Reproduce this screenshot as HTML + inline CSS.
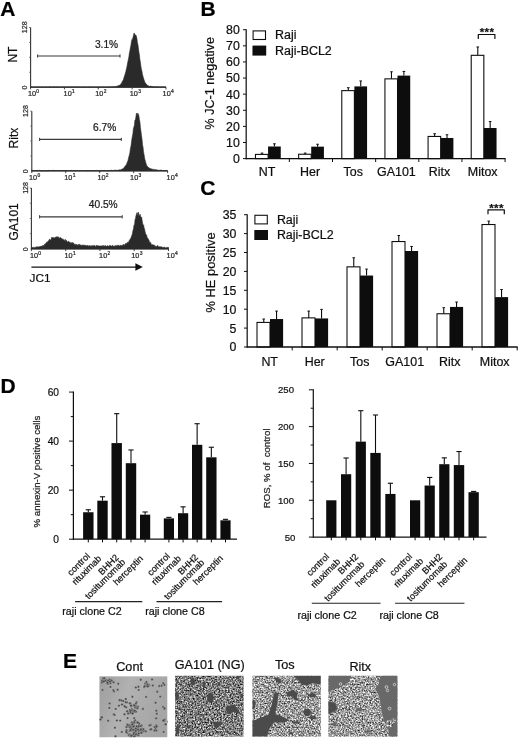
<!DOCTYPE html>
<html lang="en">
<head>
<meta charset="utf-8">
<title>Figure</title>
<style>
html,body{margin:0;padding:0;background:#fff;}
body{width:520px;height:740px;overflow:hidden;}
svg{display:block;font-family:"Liberation Sans", sans-serif;}
svg text{stroke:#111;stroke-width:0.22px;paint-order:stroke fill;}
svg .all{filter:url(#gsoft);}
</style>
</head>
<body>
<svg width="520" height="740" viewBox="0 0 520 740">
<defs>
<linearGradient id="contbg" x1="0" y1="0" x2="1" y2="0.3"><stop offset="0" stop-color="#989898"/><stop offset="0.45" stop-color="#b0b0b0"/><stop offset="1" stop-color="#a2a2a2"/></linearGradient>
<filter id="fineNoise" x="0" y="0" width="100%" height="100%"><feTurbulence type="fractalNoise" baseFrequency="0.9" numOctaves="2" seed="3"/><feColorMatrix type="matrix" values="0 0 0 0 0.5  0 0 0 0 0.5  0 0 0 0 0.5  1.2 0 0 0 -0.1"/></filter>
<filter id="speckle" x="0" y="0" width="100%" height="100%" color-interpolation-filters="sRGB"><feTurbulence type="fractalNoise" baseFrequency="0.63" numOctaves="3" seed="8"/><feColorMatrix type="matrix" values="1.5 0 0 0 -0.255  1.5 0 0 0 -0.255  1.5 0 0 0 -0.255  0 0 0 0 1"/><feGaussianBlur stdDeviation="0.5"/></filter>
<filter id="speckle2" x="0" y="0" width="100%" height="100%" color-interpolation-filters="sRGB"><feTurbulence type="fractalNoise" baseFrequency="0.63" numOctaves="3" seed="21"/><feColorMatrix type="matrix" values="1.5 0 0 0 -0.135  1.5 0 0 0 -0.135  1.5 0 0 0 -0.135  0 0 0 0 1"/><feGaussianBlur stdDeviation="0.5"/></filter>
<filter id="gsoft" x="0" y="0" width="100%" height="100%" filterUnits="userSpaceOnUse"><feGaussianBlur stdDeviation="0.32"/></filter>
<filter id="soft" x="-5%" y="-5%" width="110%" height="110%"><feGaussianBlur stdDeviation="0.35"/></filter>
<filter id="soft2" x="-5%" y="-5%" width="110%" height="110%"><feGaussianBlur stdDeviation="0.7"/></filter>
<clipPath id="c1"><rect x="99.3" y="676.2" width="68.2" height="61.2"/></clipPath>
<clipPath id="c2"><rect x="175.1" y="675.8" width="68.4" height="60.7"/></clipPath>
<clipPath id="c3"><rect x="252.5" y="675.8" width="68.2" height="60.7"/></clipPath>
<clipPath id="blob4"><circle cx="389.6" cy="723.6" r="3.6"/><circle cx="393.6" cy="720.6" r="2.2"/><circle cx="375.6" cy="683.6" r="3.2"/></clipPath>
<clipPath id="c4"><rect x="328.5" y="675.8" width="68.9" height="60.7"/></clipPath>
</defs>
<rect x="0" y="0" width="520" height="740" fill="#ffffff"/>
<g class="all">
<text x="0.3" y="16.4" font-size="21" text-anchor="start" font-weight="bold" fill="#000">A</text>
<path d="M30.6,87.2 L30.6,87.1 L31.1,86.9 L31.6,86.9 L32.1,87.1 L32.6,87.0 L33.1,87.0 L33.6,86.9 L34.1,86.9 L34.6,87.2 L35.1,87.2 L35.6,86.9 L36.1,87.0 L36.6,86.9 L37.1,87.2 L37.6,87.0 L38.1,86.9 L38.6,87.1 L39.1,86.8 L39.6,86.8 L40.1,87.2 L40.6,87.2 L41.1,87.0 L41.6,86.8 L42.1,87.0 L42.6,87.1 L43.1,87.0 L43.6,87.2 L44.1,87.1 L44.6,87.0 L45.1,87.0 L45.6,87.1 L46.1,87.1 L46.6,87.1 L47.1,87.0 L47.7,87.1 L48.2,87.2 L48.7,86.9 L49.2,87.0 L49.7,86.9 L50.2,87.1 L50.7,86.8 L51.2,86.9 L51.7,87.2 L52.2,87.1 L52.7,86.9 L53.2,86.9 L53.7,86.8 L54.2,87.0 L54.7,86.9 L55.2,86.9 L55.7,87.1 L56.2,87.0 L56.7,86.8 L57.2,86.9 L57.7,87.0 L58.2,87.0 L58.7,87.2 L59.2,87.1 L59.7,86.9 L60.2,87.0 L60.7,87.1 L61.2,87.0 L61.7,86.9 L62.2,86.9 L62.7,87.1 L63.2,87.0 L63.7,87.0 L64.2,86.9 L64.7,87.0 L65.2,87.0 L65.7,87.0 L66.2,87.2 L66.7,87.2 L67.2,86.9 L67.7,86.8 L68.2,87.0 L68.7,87.0 L69.2,87.1 L69.7,87.0 L70.2,86.8 L70.7,86.9 L71.2,87.0 L71.7,86.9 L72.2,87.1 L72.7,87.0 L73.2,86.8 L73.7,87.0 L74.2,87.0 L74.7,87.1 L75.2,87.0 L75.7,86.8 L76.2,87.2 L76.7,86.9 L77.2,86.9 L77.7,86.8 L78.2,86.9 L78.7,86.9 L79.2,87.0 L79.7,87.0 L80.2,87.0 L80.7,87.2 L81.2,86.9 L81.8,87.0 L82.3,87.1 L82.8,87.0 L83.3,87.0 L83.8,87.1 L84.3,87.1 L84.8,87.0 L85.3,87.0 L85.8,87.0 L86.3,87.0 L86.8,87.2 L87.3,87.1 L87.8,87.1 L88.3,87.0 L88.8,86.9 L89.3,86.9 L89.8,86.9 L90.3,86.9 L90.8,87.1 L91.3,86.9 L91.8,86.9 L92.3,87.2 L92.8,87.2 L93.3,87.2 L93.8,86.9 L94.3,87.1 L94.8,87.2 L95.3,86.9 L95.8,87.1 L96.3,87.2 L96.8,87.1 L97.3,87.0 L97.8,87.1 L98.3,87.1 L98.8,86.9 L99.3,87.0 L99.8,87.1 L100.3,87.0 L100.8,87.2 L101.3,87.0 L101.8,87.0 L102.3,87.1 L102.8,87.2 L103.3,86.8 L103.8,87.0 L104.3,87.1 L104.8,86.9 L105.3,86.9 L105.8,87.2 L106.3,87.2 L106.8,87.1 L107.3,86.9 L107.8,87.1 L108.3,86.9 L108.8,86.9 L109.3,86.9 L109.8,87.0 L110.3,86.7 L110.8,86.8 L111.3,86.9 L111.8,87.0 L112.3,86.8 L112.8,86.9 L113.3,86.8 L113.8,86.8 L114.3,86.7 L114.8,86.8 L115.4,86.7 L115.9,86.3 L116.4,86.3 L116.9,86.4 L117.4,86.0 L117.9,86.1 L118.4,85.6 L118.9,85.4 L119.4,85.3 L119.9,85.0 L120.4,84.7 L120.9,83.7 L121.4,83.5 L121.9,82.3 L122.4,81.3 L122.9,80.6 L123.4,79.7 L123.9,77.8 L124.4,76.2 L124.9,74.8 L125.4,73.1 L125.9,71.3 L126.4,69.1 L126.9,67.0 L127.4,63.8 L127.9,61.6 L128.4,59.2 L128.9,56.7 L129.4,52.8 L129.9,50.8 L130.4,47.6 L130.9,45.5 L131.4,41.7 L131.9,39.4 L132.4,39.7 L132.9,37.6 L133.4,36.0 L133.9,33.2 L134.4,33.3 L134.9,34.4 L135.4,35.3 L135.9,35.1 L136.4,36.3 L136.9,38.4 L137.4,42.6 L137.9,44.4 L138.4,48.2 L138.9,52.1 L139.4,54.7 L139.9,59.6 L140.4,62.2 L140.9,66.3 L141.4,69.2 L141.9,71.0 L142.4,74.2 L142.9,75.9 L143.4,77.9 L143.9,79.3 L144.4,81.0 L144.9,82.2 L145.4,83.1 L145.9,83.5 L146.4,84.3 L146.9,84.6 L147.4,85.1 L147.9,85.7 L148.4,85.8 L148.9,86.2 L149.5,86.4 L150.0,86.5 L150.5,86.2 L151.0,86.3 L151.5,86.4 L152.0,86.7 L152.5,86.6 L153.0,86.6 L153.5,86.8 L154.0,86.7 L154.5,86.9 L155.0,87.0 L155.5,86.9 L156.0,86.7 L156.5,86.9 L157.0,86.7 L157.5,86.9 L158.0,87.0 L158.5,86.8 L159.0,86.8 L159.5,87.2 L160.0,86.9 L160.5,87.1 L161.0,87.1 L161.5,86.8 L162.0,87.2 L162.5,87.1 L163.0,86.8 L163.5,87.0 L164.0,87.1 L164.5,87.1 L165.0,87.1 L165.5,86.9 L166.0,87.2 L166.0,87.2 Z" fill="#2b2b2b" stroke="#2b2b2b" stroke-width="0.6"/>
<line x1="30.6" y1="27.5" x2="30.6" y2="87.7" stroke="#333" stroke-width="1.1"/>
<line x1="30.1" y1="87.2" x2="166.0" y2="87.2" stroke="#2b2b2b" stroke-width="1.3"/>
<line x1="29.1" y1="27.5" x2="30.6" y2="27.5" stroke="#444" stroke-width="0.8"/>
<line x1="29.0" y1="72.275" x2="30.6" y2="72.275" stroke="#555" stroke-width="0.7"/>
<line x1="29.0" y1="57.35" x2="30.6" y2="57.35" stroke="#555" stroke-width="0.7"/>
<line x1="29.0" y1="42.425" x2="30.6" y2="42.425" stroke="#555" stroke-width="0.7"/>
<line x1="30.6" y1="87.2" x2="30.6" y2="89.4" stroke="#333" stroke-width="0.9"/>
<text x="27.9" y="96.0" font-size="7.3" fill="#2a2a2a" stroke="#2a2a2a" stroke-width="0.15">10<tspan dx="0.3" dy="-2.6" font-size="4.9">0</tspan></text>
<line x1="64.45" y1="87.2" x2="64.45" y2="89.4" stroke="#333" stroke-width="0.9"/>
<text x="63.6" y="96.0" font-size="7.3" fill="#2a2a2a" stroke="#2a2a2a" stroke-width="0.15">10<tspan dx="0.3" dy="-2.6" font-size="4.9">1</tspan></text>
<line x1="98.30000000000001" y1="87.2" x2="98.30000000000001" y2="89.4" stroke="#333" stroke-width="0.9"/>
<text x="95.2" y="96.0" font-size="7.3" fill="#2a2a2a" stroke="#2a2a2a" stroke-width="0.15">10<tspan dx="0.3" dy="-2.6" font-size="4.9">2</tspan></text>
<line x1="132.15" y1="87.2" x2="132.15" y2="89.4" stroke="#333" stroke-width="0.9"/>
<text x="129.8" y="96.0" font-size="7.3" fill="#2a2a2a" stroke="#2a2a2a" stroke-width="0.15">10<tspan dx="0.3" dy="-2.6" font-size="4.9">3</tspan></text>
<line x1="166.0" y1="87.2" x2="166.0" y2="89.4" stroke="#333" stroke-width="0.9"/>
<text x="162.6" y="96.0" font-size="7.3" fill="#2a2a2a" stroke="#2a2a2a" stroke-width="0.15">10<tspan dx="0.3" dy="-2.6" font-size="4.9">4</tspan></text>
<text x="27.0" y="27.3" font-size="7.1" text-anchor="middle" font-weight="normal" fill="#333" transform="rotate(-90 27.0 27.3)" stroke="#333" stroke-width="0.15">128</text>
<text x="27.0" y="87.5" font-size="7.1" text-anchor="middle" font-weight="normal" fill="#333" transform="rotate(-90 27.0 87.5)" stroke="#333" stroke-width="0.15">0</text>
<line x1="37.6" y1="56" x2="120" y2="56" stroke="#3a3a3a" stroke-width="1.2"/>
<line x1="37.6" y1="54.4" x2="37.6" y2="57.6" stroke="#3a3a3a" stroke-width="1.0"/>
<line x1="120" y1="54.4" x2="120" y2="57.6" stroke="#3a3a3a" stroke-width="1.0"/>
<text x="118.2" y="48.3" font-size="10.2" text-anchor="end" font-weight="normal" fill="#1c1c1c">3.1%</text>
<text x="16.7" y="54.6" font-size="12" text-anchor="middle" font-weight="normal" fill="#111" transform="rotate(-90 16.7 54.6)">NT</text>
<path d="M31.8,170.9 L31.8,170.4 L32.3,170.4 L32.8,170.9 L33.3,170.9 L33.8,170.5 L34.3,170.5 L34.8,170.6 L35.3,170.7 L35.8,170.6 L36.3,170.6 L36.8,170.6 L37.3,170.8 L37.8,170.7 L38.3,170.7 L38.8,170.5 L39.3,170.4 L39.8,170.4 L40.4,170.6 L40.9,170.7 L41.4,170.8 L41.9,170.9 L42.4,170.9 L42.9,170.7 L43.4,170.7 L43.9,170.7 L44.4,170.5 L44.9,170.6 L45.4,170.6 L45.9,170.8 L46.4,170.9 L46.9,170.7 L47.4,170.8 L47.9,170.6 L48.4,170.4 L48.9,170.6 L49.4,170.8 L49.9,170.5 L50.4,170.5 L50.9,170.5 L51.4,170.4 L51.9,170.5 L52.4,170.5 L52.9,170.7 L53.4,170.4 L53.9,170.4 L54.4,170.8 L54.9,170.5 L55.4,170.5 L55.9,170.7 L56.4,170.6 L56.9,170.7 L57.5,170.4 L58.0,170.6 L58.5,170.5 L59.0,170.7 L59.5,170.5 L60.0,170.5 L60.5,170.7 L61.0,170.6 L61.5,170.4 L62.0,170.5 L62.5,170.7 L63.0,170.8 L63.5,170.7 L64.0,170.6 L64.5,170.8 L65.0,170.4 L65.5,170.8 L66.0,170.4 L66.5,170.7 L67.0,170.4 L67.5,170.5 L68.0,170.6 L68.5,170.6 L69.0,170.6 L69.5,170.6 L70.0,170.7 L70.5,170.8 L71.0,170.6 L71.5,170.4 L72.0,170.6 L72.5,170.9 L73.0,170.5 L73.5,170.5 L74.0,170.4 L74.6,170.8 L75.1,170.5 L75.6,170.9 L76.1,170.6 L76.6,170.8 L77.1,170.8 L77.6,170.5 L78.1,170.8 L78.6,170.6 L79.1,170.5 L79.6,170.8 L80.1,170.8 L80.6,170.5 L81.1,170.7 L81.6,170.5 L82.1,170.9 L82.6,170.7 L83.1,170.8 L83.6,170.6 L84.1,170.9 L84.6,170.4 L85.1,170.9 L85.6,170.5 L86.1,170.9 L86.6,170.8 L87.1,170.5 L87.6,170.8 L88.1,170.8 L88.6,170.6 L89.1,170.7 L89.6,170.9 L90.1,170.4 L90.6,170.8 L91.1,170.9 L91.7,170.7 L92.2,170.6 L92.7,170.5 L93.2,170.8 L93.7,170.7 L94.2,170.9 L94.7,170.7 L95.2,170.5 L95.7,170.5 L96.2,170.4 L96.7,170.5 L97.2,170.5 L97.7,170.5 L98.2,170.7 L98.7,170.8 L99.2,170.6 L99.7,170.7 L100.2,170.8 L100.7,170.7 L101.2,170.5 L101.7,170.8 L102.2,170.6 L102.7,170.7 L103.2,170.6 L103.7,170.8 L104.2,170.4 L104.7,170.8 L105.2,170.6 L105.7,170.7 L106.2,170.9 L106.7,170.6 L107.2,170.8 L107.7,170.8 L108.3,170.8 L108.8,170.8 L109.3,170.8 L109.8,170.5 L110.3,170.6 L110.8,170.3 L111.3,170.3 L111.8,170.3 L112.3,170.6 L112.8,170.5 L113.3,170.6 L113.8,170.4 L114.3,170.3 L114.8,170.2 L115.3,170.2 L115.8,170.4 L116.3,170.3 L116.8,170.2 L117.3,170.4 L117.8,170.3 L118.3,170.0 L118.8,170.1 L119.3,169.7 L119.8,169.9 L120.3,169.8 L120.8,169.7 L121.3,169.5 L121.8,169.3 L122.3,168.9 L122.8,168.7 L123.3,168.4 L123.8,167.8 L124.3,167.6 L124.8,166.6 L125.4,165.8 L125.9,165.2 L126.4,164.5 L126.9,163.2 L127.4,161.8 L127.9,160.9 L128.4,158.7 L128.9,156.6 L129.4,154.8 L129.9,152.5 L130.4,148.6 L130.9,146.5 L131.4,143.1 L131.9,138.9 L132.4,136.3 L132.9,133.8 L133.4,128.5 L133.9,127.1 L134.4,125.2 L134.9,120.2 L135.4,119.8 L135.9,117.1 L136.4,113.5 L136.9,113.0 L137.4,114.9 L137.9,113.3 L138.4,114.3 L138.9,115.9 L139.4,119.6 L139.9,121.7 L140.4,127.3 L140.9,130.9 L141.4,135.1 L141.9,138.2 L142.5,144.4 L143.0,147.1 L143.5,151.7 L144.0,154.4 L144.5,157.4 L145.0,159.7 L145.5,161.4 L146.0,163.4 L146.5,165.0 L147.0,166.0 L147.5,166.8 L148.0,166.8 L148.5,167.5 L149.0,167.7 L149.5,168.1 L150.0,168.8 L150.5,168.6 L151.0,168.7 L151.5,168.9 L152.0,169.1 L152.5,169.3 L153.0,169.4 L153.5,169.3 L154.0,169.7 L154.5,169.6 L155.0,169.7 L155.5,169.6 L156.0,169.7 L156.5,169.7 L157.0,169.8 L157.5,170.2 L158.0,170.3 L158.5,170.2 L159.0,170.4 L159.6,170.3 L160.1,170.2 L160.6,170.1 L161.1,170.3 L161.6,170.2 L162.1,170.6 L162.6,170.5 L163.1,170.2 L163.6,170.7 L164.1,170.6 L164.6,170.8 L165.1,170.8 L165.6,170.4 L166.1,170.3 L166.6,170.5 L167.1,170.8 L167.6,170.7 L167.6,170.9 Z" fill="#2b2b2b" stroke="#2b2b2b" stroke-width="0.6"/>
<line x1="31.8" y1="111.2" x2="31.8" y2="171.4" stroke="#333" stroke-width="1.1"/>
<line x1="31.3" y1="170.9" x2="167.6" y2="170.9" stroke="#2b2b2b" stroke-width="1.3"/>
<line x1="30.3" y1="111.2" x2="31.8" y2="111.2" stroke="#444" stroke-width="0.8"/>
<line x1="30.2" y1="155.975" x2="31.8" y2="155.975" stroke="#555" stroke-width="0.7"/>
<line x1="30.2" y1="141.05" x2="31.8" y2="141.05" stroke="#555" stroke-width="0.7"/>
<line x1="30.2" y1="126.125" x2="31.8" y2="126.125" stroke="#555" stroke-width="0.7"/>
<line x1="31.8" y1="170.9" x2="31.8" y2="173.1" stroke="#333" stroke-width="0.9"/>
<text x="29.0" y="179.7" font-size="7.3" fill="#2a2a2a" stroke="#2a2a2a" stroke-width="0.15">10<tspan dx="0.3" dy="-2.6" font-size="4.9">0</tspan></text>
<line x1="65.75" y1="170.9" x2="65.75" y2="173.1" stroke="#333" stroke-width="0.9"/>
<text x="64.3" y="179.7" font-size="7.3" fill="#2a2a2a" stroke="#2a2a2a" stroke-width="0.15">10<tspan dx="0.3" dy="-2.6" font-size="4.9">1</tspan></text>
<line x1="99.69999999999999" y1="170.9" x2="99.69999999999999" y2="173.1" stroke="#333" stroke-width="0.9"/>
<text x="97.4" y="179.7" font-size="7.3" fill="#2a2a2a" stroke="#2a2a2a" stroke-width="0.15">10<tspan dx="0.3" dy="-2.6" font-size="4.9">2</tspan></text>
<line x1="133.65" y1="170.9" x2="133.65" y2="173.1" stroke="#333" stroke-width="0.9"/>
<text x="130.1" y="179.7" font-size="7.3" fill="#2a2a2a" stroke="#2a2a2a" stroke-width="0.15">10<tspan dx="0.3" dy="-2.6" font-size="4.9">3</tspan></text>
<line x1="167.6" y1="170.9" x2="167.6" y2="173.1" stroke="#333" stroke-width="0.9"/>
<text x="166.6" y="179.7" font-size="7.3" fill="#2a2a2a" stroke="#2a2a2a" stroke-width="0.15">10<tspan dx="0.3" dy="-2.6" font-size="4.9">4</tspan></text>
<text x="28.2" y="111.0" font-size="7.1" text-anchor="middle" font-weight="normal" fill="#333" transform="rotate(-90 28.2 111.0)" stroke="#333" stroke-width="0.15">128</text>
<text x="28.2" y="171.20000000000002" font-size="7.1" text-anchor="middle" font-weight="normal" fill="#333" transform="rotate(-90 28.2 171.20000000000002)" stroke="#333" stroke-width="0.15">0</text>
<line x1="39.6" y1="139.4" x2="121.3" y2="139.4" stroke="#3a3a3a" stroke-width="1.2"/>
<line x1="39.6" y1="137.8" x2="39.6" y2="141.0" stroke="#3a3a3a" stroke-width="1.0"/>
<line x1="121.3" y1="137.8" x2="121.3" y2="141.0" stroke="#3a3a3a" stroke-width="1.0"/>
<text x="116.3" y="130.9" font-size="10.2" text-anchor="end" font-weight="normal" fill="#1c1c1c">6.7%</text>
<text x="18.1" y="138.1" font-size="12" text-anchor="middle" font-weight="normal" fill="#111" transform="rotate(-90 18.1 138.1)">Ritx</text>
<path d="M31.4,248.9 L31.4,247.7 L31.9,247.3 L32.4,247.5 L32.9,247.2 L33.4,247.2 L33.9,247.8 L34.4,247.9 L35.0,246.9 L35.5,247.5 L36.0,247.5 L36.5,246.6 L37.0,247.2 L37.5,246.7 L38.0,247.1 L38.5,246.8 L39.0,247.3 L39.5,246.6 L40.0,246.2 L40.5,246.6 L41.0,246.1 L41.6,246.0 L42.1,246.7 L42.6,245.5 L43.1,245.5 L43.6,245.6 L44.1,245.7 L44.6,244.1 L45.1,244.3 L45.6,243.5 L46.1,242.8 L46.6,242.6 L47.1,241.7 L47.6,242.2 L48.2,240.9 L48.7,241.0 L49.2,239.5 L49.7,239.1 L50.2,240.3 L50.7,239.8 L51.2,239.2 L51.7,237.2 L52.2,238.1 L52.7,237.4 L53.2,238.1 L53.7,237.5 L54.2,237.8 L54.8,237.9 L55.3,237.3 L55.8,237.3 L56.3,236.6 L56.8,237.2 L57.3,236.7 L57.8,237.0 L58.3,236.8 L58.8,237.7 L59.3,239.0 L59.8,237.5 L60.3,237.4 L60.9,237.8 L61.4,238.7 L61.9,238.6 L62.4,239.9 L62.9,238.7 L63.4,239.5 L63.9,240.3 L64.4,241.0 L64.9,239.5 L65.4,239.5 L65.9,241.6 L66.4,240.3 L66.9,241.3 L67.5,242.1 L68.0,242.0 L68.5,241.3 L69.0,241.3 L69.5,243.1 L70.0,242.2 L70.5,243.4 L71.0,242.4 L71.5,243.3 L72.0,242.5 L72.5,242.5 L73.0,243.5 L73.5,242.8 L74.1,244.1 L74.6,244.7 L75.1,243.9 L75.6,245.0 L76.1,244.8 L76.6,244.6 L77.1,244.4 L77.6,245.2 L78.1,245.5 L78.6,244.3 L79.1,245.2 L79.6,244.3 L80.1,244.5 L80.7,245.3 L81.2,245.3 L81.7,245.2 L82.2,245.1 L82.7,245.2 L83.2,245.3 L83.7,245.3 L84.2,244.8 L84.7,245.5 L85.2,245.6 L85.7,245.3 L86.2,246.0 L86.7,245.9 L87.3,245.0 L87.8,245.6 L88.3,245.6 L88.8,246.4 L89.3,245.8 L89.8,245.6 L90.3,246.4 L90.8,245.6 L91.3,245.5 L91.8,246.4 L92.3,245.6 L92.8,245.8 L93.3,245.5 L93.9,246.0 L94.4,245.5 L94.9,245.4 L95.4,246.4 L95.9,246.4 L96.4,245.5 L96.9,245.1 L97.4,246.1 L97.9,245.8 L98.4,245.7 L98.9,246.0 L99.4,246.0 L99.9,246.1 L100.5,246.0 L101.0,245.7 L101.5,246.1 L102.0,246.0 L102.5,245.4 L103.0,246.5 L103.5,245.7 L104.0,245.5 L104.5,246.1 L105.0,246.2 L105.5,245.4 L106.0,246.2 L106.6,246.3 L107.1,246.0 L107.6,245.6 L108.1,246.4 L108.6,246.1 L109.1,246.1 L109.6,245.4 L110.1,246.0 L110.6,245.4 L111.1,246.3 L111.6,246.1 L112.1,245.7 L112.6,245.3 L113.2,245.9 L113.7,246.2 L114.2,246.4 L114.7,245.8 L115.2,246.2 L115.7,245.3 L116.2,245.3 L116.7,246.2 L117.2,246.0 L117.7,245.2 L118.2,245.4 L118.7,245.1 L119.2,245.8 L119.8,246.0 L120.3,245.7 L120.8,244.9 L121.3,245.6 L121.8,245.4 L122.3,245.2 L122.8,245.2 L123.3,245.1 L123.8,244.2 L124.3,245.2 L124.8,245.3 L125.3,243.7 L125.8,243.6 L126.4,243.2 L126.9,243.8 L127.4,242.5 L127.9,242.1 L128.4,242.9 L128.9,241.2 L129.4,240.3 L129.9,239.6 L130.4,238.8 L130.9,238.1 L131.4,236.5 L131.9,235.2 L132.4,233.8 L133.0,230.2 L133.5,229.1 L134.0,224.9 L134.5,225.7 L135.0,219.8 L135.5,218.6 L136.0,215.6 L136.5,214.0 L137.0,212.6 L137.5,213.4 L138.0,216.0 L138.5,212.1 L139.0,215.5 L139.6,215.4 L140.1,214.3 L140.6,216.1 L141.1,218.0 L141.6,217.0 L142.1,220.3 L142.6,223.2 L143.1,225.3 L143.6,224.8 L144.1,228.1 L144.6,228.9 L145.1,232.0 L145.7,234.1 L146.2,234.6 L146.7,235.3 L147.2,238.2 L147.7,237.9 L148.2,238.7 L148.7,239.9 L149.2,240.7 L149.7,243.0 L150.2,242.4 L150.7,242.5 L151.2,244.4 L151.7,244.4 L152.3,244.7 L152.8,244.6 L153.3,245.0 L153.8,245.1 L154.3,244.9 L154.8,246.2 L155.3,246.2 L155.8,246.3 L156.3,246.4 L156.8,246.6 L157.3,245.4 L157.8,245.7 L158.3,246.9 L158.9,246.4 L159.4,246.7 L159.9,246.8 L160.4,246.9 L160.9,246.6 L161.4,246.7 L161.9,247.1 L162.4,247.4 L162.9,247.3 L163.4,247.6 L163.9,247.1 L164.4,247.0 L164.9,247.4 L165.5,247.8 L166.0,247.8 L166.5,247.6 L167.0,247.3 L167.5,247.2 L168.0,247.7 L168.5,247.2 L168.5,248.9 Z" fill="#2b2b2b" stroke="#2b2b2b" stroke-width="0.6"/>
<line x1="31.4" y1="188.1" x2="31.4" y2="249.4" stroke="#333" stroke-width="1.1"/>
<line x1="30.9" y1="248.9" x2="168.5" y2="248.9" stroke="#2b2b2b" stroke-width="1.3"/>
<line x1="29.9" y1="188.1" x2="31.4" y2="188.1" stroke="#444" stroke-width="0.8"/>
<line x1="29.799999999999997" y1="233.7" x2="31.4" y2="233.7" stroke="#555" stroke-width="0.7"/>
<line x1="29.799999999999997" y1="218.5" x2="31.4" y2="218.5" stroke="#555" stroke-width="0.7"/>
<line x1="29.799999999999997" y1="203.3" x2="31.4" y2="203.3" stroke="#555" stroke-width="0.7"/>
<line x1="31.4" y1="248.9" x2="31.4" y2="251.1" stroke="#333" stroke-width="0.9"/>
<text x="29.9" y="257.7" font-size="7.3" fill="#2a2a2a" stroke="#2a2a2a" stroke-width="0.15">10<tspan dx="0.3" dy="-2.6" font-size="4.9">0</tspan></text>
<line x1="65.675" y1="248.9" x2="65.675" y2="251.1" stroke="#333" stroke-width="0.9"/>
<text x="64.5" y="257.7" font-size="7.3" fill="#2a2a2a" stroke="#2a2a2a" stroke-width="0.15">10<tspan dx="0.3" dy="-2.6" font-size="4.9">1</tspan></text>
<line x1="99.94999999999999" y1="248.9" x2="99.94999999999999" y2="251.1" stroke="#333" stroke-width="0.9"/>
<text x="99.1" y="257.7" font-size="7.3" fill="#2a2a2a" stroke="#2a2a2a" stroke-width="0.15">10<tspan dx="0.3" dy="-2.6" font-size="4.9">2</tspan></text>
<line x1="134.225" y1="248.9" x2="134.225" y2="251.1" stroke="#333" stroke-width="0.9"/>
<text x="131.2" y="257.7" font-size="7.3" fill="#2a2a2a" stroke="#2a2a2a" stroke-width="0.15">10<tspan dx="0.3" dy="-2.6" font-size="4.9">3</tspan></text>
<line x1="168.5" y1="248.9" x2="168.5" y2="251.1" stroke="#333" stroke-width="0.9"/>
<text x="166.6" y="257.7" font-size="7.3" fill="#2a2a2a" stroke="#2a2a2a" stroke-width="0.15">10<tspan dx="0.3" dy="-2.6" font-size="4.9">4</tspan></text>
<text x="27.799999999999997" y="187.9" font-size="7.1" text-anchor="middle" font-weight="normal" fill="#333" transform="rotate(-90 27.799999999999997 187.9)" stroke="#333" stroke-width="0.15">128</text>
<text x="27.799999999999997" y="249.20000000000002" font-size="7.1" text-anchor="middle" font-weight="normal" fill="#333" transform="rotate(-90 27.799999999999997 249.20000000000002)" stroke="#333" stroke-width="0.15">0</text>
<line x1="39.6" y1="216.8" x2="122.2" y2="216.8" stroke="#3a3a3a" stroke-width="1.2"/>
<line x1="39.6" y1="215.20000000000002" x2="39.6" y2="218.4" stroke="#3a3a3a" stroke-width="1.0"/>
<line x1="122.2" y1="215.20000000000002" x2="122.2" y2="218.4" stroke="#3a3a3a" stroke-width="1.0"/>
<text x="117.7" y="208.1" font-size="10.2" text-anchor="end" font-weight="normal" fill="#1c1c1c">40.5%</text>
<text x="17.6" y="221.9" font-size="12" text-anchor="middle" font-weight="normal" fill="#111" transform="rotate(-90 17.6 221.9)">GA101</text>
<line x1="31.4" y1="267.0" x2="137" y2="267.0" stroke="#111" stroke-width="1.25"/>
<path d="M135.4,263.3 L142.8,267.0 L135.4,270.7 Z" fill="#111"/>
<text x="29.6" y="282.4" font-size="11.8" text-anchor="start" font-weight="normal" fill="#111">JC1</text>
<text x="200.4" y="16.4" font-size="21" text-anchor="start" font-weight="bold" fill="#000">B</text>
<line x1="243.0" y1="158.6" x2="246.2" y2="158.6" stroke="#111" stroke-width="1"/>
<text x="239.79999999999998" y="163.0" font-size="12.3" text-anchor="end" font-weight="normal" fill="#111">0</text>
<line x1="243.0" y1="142.49" x2="246.2" y2="142.49" stroke="#111" stroke-width="1"/>
<text x="239.79999999999998" y="146.89000000000001" font-size="12.3" text-anchor="end" font-weight="normal" fill="#111">10</text>
<line x1="243.0" y1="126.38" x2="246.2" y2="126.38" stroke="#111" stroke-width="1"/>
<text x="239.79999999999998" y="130.78" font-size="12.3" text-anchor="end" font-weight="normal" fill="#111">20</text>
<line x1="243.0" y1="110.27" x2="246.2" y2="110.27" stroke="#111" stroke-width="1"/>
<text x="239.79999999999998" y="114.67" font-size="12.3" text-anchor="end" font-weight="normal" fill="#111">30</text>
<line x1="243.0" y1="94.16" x2="246.2" y2="94.16" stroke="#111" stroke-width="1"/>
<text x="239.79999999999998" y="98.56" font-size="12.3" text-anchor="end" font-weight="normal" fill="#111">40</text>
<line x1="243.0" y1="78.05" x2="246.2" y2="78.05" stroke="#111" stroke-width="1"/>
<text x="239.79999999999998" y="82.45" font-size="12.3" text-anchor="end" font-weight="normal" fill="#111">50</text>
<line x1="243.0" y1="61.94" x2="246.2" y2="61.94" stroke="#111" stroke-width="1"/>
<text x="239.79999999999998" y="66.34" font-size="12.3" text-anchor="end" font-weight="normal" fill="#111">60</text>
<line x1="243.0" y1="45.83" x2="246.2" y2="45.83" stroke="#111" stroke-width="1"/>
<text x="239.79999999999998" y="50.23" font-size="12.3" text-anchor="end" font-weight="normal" fill="#111">70</text>
<line x1="243.0" y1="29.72" x2="246.2" y2="29.72" stroke="#111" stroke-width="1"/>
<text x="239.79999999999998" y="34.12" font-size="12.3" text-anchor="end" font-weight="normal" fill="#111">80</text>
<rect x="255.47" y="154.41" width="12.60" height="4.19" fill="white" stroke="#111" stroke-width="1.1"/>
<rect x="268.07" y="146.52" width="12.70" height="12.08" fill="#0c0c0c"/>
<line x1="262.02500000000003" y1="154.4114" x2="262.02500000000003" y2="153.1226" stroke="#111" stroke-width="1.1"/>
<line x1="260.725" y1="153.1226" x2="263.32500000000005" y2="153.1226" stroke="#111" stroke-width="1.0"/>
<line x1="274.425" y1="146.51749999999998" x2="274.425" y2="143.7788" stroke="#111" stroke-width="1.1"/>
<line x1="273.125" y1="143.7788" x2="275.725" y2="143.7788" stroke="#111" stroke-width="1.0"/>
<text x="266.97499999999997" y="176.1" font-size="12.45" text-anchor="middle" font-weight="normal" fill="#111">NT</text>
<rect x="298.62" y="154.25" width="12.60" height="4.35" fill="white" stroke="#111" stroke-width="1.1"/>
<rect x="311.22" y="146.68" width="12.70" height="11.92" fill="#0c0c0c"/>
<line x1="305.175" y1="154.25029999999998" x2="305.175" y2="153.1226" stroke="#111" stroke-width="1.1"/>
<line x1="303.875" y1="153.1226" x2="306.475" y2="153.1226" stroke="#111" stroke-width="1.0"/>
<line x1="317.575" y1="146.6786" x2="317.575" y2="144.2621" stroke="#111" stroke-width="1.1"/>
<line x1="316.275" y1="144.2621" x2="318.875" y2="144.2621" stroke="#111" stroke-width="1.0"/>
<text x="310.12499999999994" y="176.1" font-size="12.45" text-anchor="middle" font-weight="normal" fill="#111">Her</text>
<rect x="341.78" y="90.62" width="12.60" height="67.98" fill="white" stroke="#111" stroke-width="1.1"/>
<rect x="354.38" y="86.43" width="12.70" height="72.17" fill="#0c0c0c"/>
<line x1="348.32500000000005" y1="90.6158" x2="348.32500000000005" y2="87.716" stroke="#111" stroke-width="1.1"/>
<line x1="347.02500000000003" y1="87.716" x2="349.62500000000006" y2="87.716" stroke="#111" stroke-width="1.0"/>
<line x1="360.725" y1="86.4272" x2="360.725" y2="80.9498" stroke="#111" stroke-width="1.1"/>
<line x1="359.425" y1="80.9498" x2="362.02500000000003" y2="80.9498" stroke="#111" stroke-width="1.0"/>
<text x="353.275" y="176.1" font-size="12.45" text-anchor="middle" font-weight="normal" fill="#111">Tos</text>
<rect x="384.93" y="78.86" width="12.60" height="79.74" fill="white" stroke="#111" stroke-width="1.1"/>
<rect x="397.52" y="75.63" width="12.70" height="82.97" fill="#0c0c0c"/>
<line x1="391.475" y1="78.85549999999999" x2="391.475" y2="71.7671" stroke="#111" stroke-width="1.1"/>
<line x1="390.175" y1="71.7671" x2="392.77500000000003" y2="71.7671" stroke="#111" stroke-width="1.0"/>
<line x1="403.875" y1="75.6335" x2="403.875" y2="71.44489999999999" stroke="#111" stroke-width="1.1"/>
<line x1="402.575" y1="71.44489999999999" x2="405.175" y2="71.44489999999999" stroke="#111" stroke-width="1.0"/>
<text x="396.425" y="176.1" font-size="12.45" text-anchor="middle" font-weight="normal" fill="#111">GA101</text>
<rect x="428.07" y="136.45" width="12.60" height="22.15" fill="white" stroke="#111" stroke-width="1.1"/>
<rect x="440.67" y="137.98" width="12.70" height="20.62" fill="#0c0c0c"/>
<line x1="434.625" y1="136.44875" x2="434.625" y2="133.71005" stroke="#111" stroke-width="1.1"/>
<line x1="433.325" y1="133.71005" x2="435.925" y2="133.71005" stroke="#111" stroke-width="1.0"/>
<line x1="447.025" y1="137.9792" x2="447.025" y2="134.75719999999998" stroke="#111" stroke-width="1.1"/>
<line x1="445.72499999999997" y1="134.75719999999998" x2="448.325" y2="134.75719999999998" stroke="#111" stroke-width="1.0"/>
<text x="439.575" y="176.1" font-size="12.45" text-anchor="middle" font-weight="normal" fill="#111">Ritx</text>
<rect x="471.23" y="55.33" width="12.60" height="103.27" fill="white" stroke="#111" stroke-width="1.1"/>
<rect x="483.82" y="127.99" width="12.70" height="30.61" fill="#0c0c0c"/>
<line x1="477.77500000000003" y1="55.334900000000005" x2="477.77500000000003" y2="46.9577" stroke="#111" stroke-width="1.1"/>
<line x1="476.475" y1="46.9577" x2="479.07500000000005" y2="46.9577" stroke="#111" stroke-width="1.0"/>
<line x1="490.175" y1="127.991" x2="490.175" y2="121.547" stroke="#111" stroke-width="1.1"/>
<line x1="488.875" y1="121.547" x2="491.475" y2="121.547" stroke="#111" stroke-width="1.0"/>
<text x="482.72499999999997" y="176.1" font-size="12.45" text-anchor="middle" font-weight="normal" fill="#111">Mitox</text>
<line x1="246.2" y1="29.22" x2="246.2" y2="159.2" stroke="#111" stroke-width="1.2"/>
<line x1="245.7" y1="158.6" x2="505.59999999999997" y2="158.6" stroke="#111" stroke-width="1.3"/>
<line x1="289.34999999999997" y1="158.6" x2="289.34999999999997" y2="162.0" stroke="#111" stroke-width="1"/>
<line x1="332.5" y1="158.6" x2="332.5" y2="162.0" stroke="#111" stroke-width="1"/>
<line x1="375.65" y1="158.6" x2="375.65" y2="162.0" stroke="#111" stroke-width="1"/>
<line x1="418.79999999999995" y1="158.6" x2="418.79999999999995" y2="162.0" stroke="#111" stroke-width="1"/>
<line x1="461.95" y1="158.6" x2="461.95" y2="162.0" stroke="#111" stroke-width="1"/>
<line x1="505.09999999999997" y1="158.6" x2="505.09999999999997" y2="162.0" stroke="#111" stroke-width="1"/>
<text x="214.3" y="83.3" font-size="12.6" text-anchor="middle" font-weight="normal" fill="#111" transform="rotate(-90 214.3 83.3)">% JC-1 negative</text>
<rect x="253.10" y="30.90" width="12.40" height="8.60" fill="white" stroke="#111" stroke-width="1.1"/>
<rect x="252.50" y="45.60" width="13.70" height="10.00" fill="#0c0c0c"/>
<text x="275.1" y="39.3" font-size="12.45" text-anchor="start" font-weight="normal" fill="#111">Raji</text>
<text x="275.1" y="54.699999999999996" font-size="12.45" text-anchor="start" font-weight="normal" fill="#111">Raji-BCL2</text>
<path d="M478.3,38.9 L478.3,34.5 L494.9,34.5 L494.9,38.9" fill="none" stroke="#111" stroke-width="1.2" stroke-linejoin="round"/>
<text x="487.0" y="36.4" font-size="11.5" text-anchor="middle" font-weight="bold" fill="#111" letter-spacing="0.35">***</text>
<text x="200.2" y="195.3" font-size="21" text-anchor="start" font-weight="bold" fill="#000">C</text>
<line x1="244.0" y1="347.0" x2="247.2" y2="347.0" stroke="#111" stroke-width="1"/>
<text x="236.39999999999998" y="351.4" font-size="12.3" text-anchor="end" font-weight="normal" fill="#111">0</text>
<line x1="244.0" y1="328.1" x2="247.2" y2="328.1" stroke="#111" stroke-width="1"/>
<text x="236.39999999999998" y="332.5" font-size="12.3" text-anchor="end" font-weight="normal" fill="#111">5</text>
<line x1="244.0" y1="309.2" x2="247.2" y2="309.2" stroke="#111" stroke-width="1"/>
<text x="236.39999999999998" y="313.59999999999997" font-size="12.3" text-anchor="end" font-weight="normal" fill="#111">10</text>
<line x1="244.0" y1="290.3" x2="247.2" y2="290.3" stroke="#111" stroke-width="1"/>
<text x="236.39999999999998" y="294.7" font-size="12.3" text-anchor="end" font-weight="normal" fill="#111">15</text>
<line x1="244.0" y1="271.4" x2="247.2" y2="271.4" stroke="#111" stroke-width="1"/>
<text x="236.39999999999998" y="275.79999999999995" font-size="12.3" text-anchor="end" font-weight="normal" fill="#111">20</text>
<line x1="244.0" y1="252.5" x2="247.2" y2="252.5" stroke="#111" stroke-width="1"/>
<text x="236.39999999999998" y="256.9" font-size="12.3" text-anchor="end" font-weight="normal" fill="#111">25</text>
<line x1="244.0" y1="233.60000000000002" x2="247.2" y2="233.60000000000002" stroke="#111" stroke-width="1"/>
<text x="236.39999999999998" y="238.00000000000003" font-size="12.3" text-anchor="end" font-weight="normal" fill="#111">30</text>
<line x1="244.0" y1="214.70000000000002" x2="247.2" y2="214.70000000000002" stroke="#111" stroke-width="1"/>
<text x="236.39999999999998" y="219.10000000000002" font-size="12.3" text-anchor="end" font-weight="normal" fill="#111">35</text>
<rect x="257.00" y="322.43" width="13.00" height="24.57" fill="white" stroke="#111" stroke-width="1.1"/>
<rect x="270.00" y="319.03" width="13.10" height="27.97" fill="#0c0c0c"/>
<line x1="263.75" y1="322.43" x2="263.75" y2="319.028" stroke="#111" stroke-width="1.1"/>
<line x1="262.45" y1="319.028" x2="265.05" y2="319.028" stroke="#111" stroke-width="1.0"/>
<line x1="276.54999999999995" y1="319.028" x2="276.54999999999995" y2="311.09000000000003" stroke="#111" stroke-width="1.1"/>
<line x1="275.24999999999994" y1="311.09000000000003" x2="277.84999999999997" y2="311.09000000000003" stroke="#111" stroke-width="1.0"/>
<text x="269.7" y="365.9" font-size="12.45" text-anchor="middle" font-weight="normal" fill="#111">NT</text>
<rect x="302.00" y="317.89" width="13.00" height="29.11" fill="white" stroke="#111" stroke-width="1.1"/>
<rect x="315.00" y="318.46" width="13.10" height="28.54" fill="#0c0c0c"/>
<line x1="308.75" y1="317.894" x2="308.75" y2="311.09000000000003" stroke="#111" stroke-width="1.1"/>
<line x1="307.45" y1="311.09000000000003" x2="310.05" y2="311.09000000000003" stroke="#111" stroke-width="1.0"/>
<line x1="321.54999999999995" y1="318.461" x2="321.54999999999995" y2="309.389" stroke="#111" stroke-width="1.1"/>
<line x1="320.24999999999994" y1="309.389" x2="322.84999999999997" y2="309.389" stroke="#111" stroke-width="1.0"/>
<text x="314.7" y="365.9" font-size="12.45" text-anchor="middle" font-weight="normal" fill="#111">Her</text>
<rect x="347.00" y="266.86" width="13.00" height="80.14" fill="white" stroke="#111" stroke-width="1.1"/>
<rect x="360.00" y="275.56" width="13.10" height="71.44" fill="#0c0c0c"/>
<line x1="353.75" y1="266.86400000000003" x2="353.75" y2="257.79200000000003" stroke="#111" stroke-width="1.1"/>
<line x1="352.45" y1="257.79200000000003" x2="355.05" y2="257.79200000000003" stroke="#111" stroke-width="1.0"/>
<line x1="366.54999999999995" y1="275.558" x2="366.54999999999995" y2="269.132" stroke="#111" stroke-width="1.1"/>
<line x1="365.24999999999994" y1="269.132" x2="367.84999999999997" y2="269.132" stroke="#111" stroke-width="1.0"/>
<text x="359.7" y="365.9" font-size="12.45" text-anchor="middle" font-weight="normal" fill="#111">Tos</text>
<rect x="392.00" y="241.54" width="13.00" height="105.46" fill="white" stroke="#111" stroke-width="1.1"/>
<rect x="405.00" y="250.99" width="13.10" height="96.01" fill="#0c0c0c"/>
<line x1="398.75" y1="241.538" x2="398.75" y2="235.49" stroke="#111" stroke-width="1.1"/>
<line x1="397.45" y1="235.49" x2="400.05" y2="235.49" stroke="#111" stroke-width="1.0"/>
<line x1="411.54999999999995" y1="250.988" x2="411.54999999999995" y2="246.452" stroke="#111" stroke-width="1.1"/>
<line x1="410.24999999999994" y1="246.452" x2="412.84999999999997" y2="246.452" stroke="#111" stroke-width="1.0"/>
<text x="404.7" y="365.9" font-size="12.45" text-anchor="middle" font-weight="normal" fill="#111">GA101</text>
<rect x="437.00" y="313.74" width="13.00" height="33.26" fill="white" stroke="#111" stroke-width="1.1"/>
<rect x="450.00" y="306.93" width="13.10" height="40.07" fill="#0c0c0c"/>
<line x1="443.75" y1="313.736" x2="443.75" y2="307.688" stroke="#111" stroke-width="1.1"/>
<line x1="442.45" y1="307.688" x2="445.05" y2="307.688" stroke="#111" stroke-width="1.0"/>
<line x1="456.54999999999995" y1="306.932" x2="456.54999999999995" y2="302.01800000000003" stroke="#111" stroke-width="1.1"/>
<line x1="455.24999999999994" y1="302.01800000000003" x2="457.84999999999997" y2="302.01800000000003" stroke="#111" stroke-width="1.0"/>
<text x="449.7" y="365.9" font-size="12.45" text-anchor="middle" font-weight="normal" fill="#111">Ritx</text>
<rect x="482.00" y="224.53" width="13.00" height="122.47" fill="white" stroke="#111" stroke-width="1.1"/>
<rect x="495.00" y="297.10" width="13.10" height="49.90" fill="#0c0c0c"/>
<line x1="488.75" y1="224.52800000000002" x2="488.75" y2="221.12600000000003" stroke="#111" stroke-width="1.1"/>
<line x1="487.45" y1="221.12600000000003" x2="490.05" y2="221.12600000000003" stroke="#111" stroke-width="1.0"/>
<line x1="501.54999999999995" y1="297.104" x2="501.54999999999995" y2="289.544" stroke="#111" stroke-width="1.1"/>
<line x1="500.24999999999994" y1="289.544" x2="502.84999999999997" y2="289.544" stroke="#111" stroke-width="1.0"/>
<text x="494.7" y="365.9" font-size="12.45" text-anchor="middle" font-weight="normal" fill="#111">Mitox</text>
<line x1="247.2" y1="214.20000000000002" x2="247.2" y2="347.6" stroke="#111" stroke-width="1.2"/>
<line x1="246.7" y1="347.0" x2="517.7" y2="347.0" stroke="#111" stroke-width="1.3"/>
<line x1="292.2" y1="347.0" x2="292.2" y2="350.4" stroke="#111" stroke-width="1"/>
<line x1="337.2" y1="347.0" x2="337.2" y2="350.4" stroke="#111" stroke-width="1"/>
<line x1="382.2" y1="347.0" x2="382.2" y2="350.4" stroke="#111" stroke-width="1"/>
<line x1="427.2" y1="347.0" x2="427.2" y2="350.4" stroke="#111" stroke-width="1"/>
<line x1="472.2" y1="347.0" x2="472.2" y2="350.4" stroke="#111" stroke-width="1"/>
<line x1="517.2" y1="347.0" x2="517.2" y2="350.4" stroke="#111" stroke-width="1"/>
<text x="214.6" y="272.4" font-size="12.85" text-anchor="middle" font-weight="normal" fill="#111" transform="rotate(-90 214.6 272.4)">% HE positive</text>
<rect x="254.90" y="215.30" width="12.40" height="8.60" fill="white" stroke="#111" stroke-width="1.1"/>
<rect x="254.30" y="230.00" width="13.70" height="10.00" fill="#0c0c0c"/>
<text x="276.9" y="223.70000000000002" font-size="12.45" text-anchor="start" font-weight="normal" fill="#111">Raji</text>
<text x="276.9" y="239.1" font-size="12.45" text-anchor="start" font-weight="normal" fill="#111">Raji-BCL2</text>
<path d="M488.0,214.3 L488.0,209.9 L504.3,209.9 L504.3,214.3" fill="none" stroke="#111" stroke-width="1.2" stroke-linejoin="round"/>
<text x="496.54999999999995" y="211.8" font-size="11.5" text-anchor="middle" font-weight="bold" fill="#111" letter-spacing="0.35">***</text>
<text x="0.5" y="392.9" font-size="21" text-anchor="start" font-weight="bold" fill="#000">D</text>
<rect x="83.10" y="512.23" width="10.40" height="26.97" fill="#0c0c0c"/>
<line x1="88.3" y1="512.2280000000001" x2="88.3" y2="509.77600000000007" stroke="#111" stroke-width="1.1"/>
<line x1="85.7" y1="509.77600000000007" x2="90.89999999999999" y2="509.77600000000007" stroke="#111" stroke-width="1.1"/>
<line x1="88.3" y1="539.2" x2="88.3" y2="542.4000000000001" stroke="#111" stroke-width="1"/>
<rect x="97.30" y="500.70" width="10.40" height="38.50" fill="#0c0c0c"/>
<line x1="102.5" y1="500.70360000000005" x2="102.5" y2="496.78040000000004" stroke="#111" stroke-width="1.1"/>
<line x1="99.9" y1="496.78040000000004" x2="105.1" y2="496.78040000000004" stroke="#111" stroke-width="1.1"/>
<line x1="102.5" y1="539.2" x2="102.5" y2="542.4000000000001" stroke="#111" stroke-width="1"/>
<rect x="111.50" y="443.08" width="10.40" height="96.12" fill="#0c0c0c"/>
<line x1="116.7" y1="443.08160000000004" x2="116.7" y2="413.65760000000006" stroke="#111" stroke-width="1.1"/>
<line x1="114.10000000000001" y1="413.65760000000006" x2="119.3" y2="413.65760000000006" stroke="#111" stroke-width="1.1"/>
<line x1="116.7" y1="539.2" x2="116.7" y2="542.4000000000001" stroke="#111" stroke-width="1"/>
<rect x="125.80" y="463.19" width="10.40" height="76.01" fill="#0c0c0c"/>
<line x1="131.0" y1="463.18800000000005" x2="131.0" y2="449.94720000000007" stroke="#111" stroke-width="1.1"/>
<line x1="128.4" y1="449.94720000000007" x2="133.6" y2="449.94720000000007" stroke="#111" stroke-width="1.1"/>
<line x1="131.0" y1="539.2" x2="131.0" y2="542.4000000000001" stroke="#111" stroke-width="1"/>
<rect x="140.00" y="514.68" width="10.20" height="24.52" fill="#0c0c0c"/>
<line x1="145.1" y1="514.6800000000001" x2="145.1" y2="511.98280000000005" stroke="#111" stroke-width="1.1"/>
<line x1="142.5" y1="511.98280000000005" x2="147.7" y2="511.98280000000005" stroke="#111" stroke-width="1.1"/>
<line x1="145.1" y1="539.2" x2="145.1" y2="542.4000000000001" stroke="#111" stroke-width="1"/>
<rect x="163.80" y="518.36" width="10.20" height="20.84" fill="#0c0c0c"/>
<line x1="168.9" y1="518.3580000000001" x2="168.9" y2="517.3772" stroke="#111" stroke-width="1.1"/>
<line x1="166.3" y1="517.3772" x2="171.5" y2="517.3772" stroke="#111" stroke-width="1.1"/>
<line x1="168.9" y1="539.2" x2="168.9" y2="542.4000000000001" stroke="#111" stroke-width="1"/>
<rect x="178.00" y="513.21" width="10.20" height="25.99" fill="#0c0c0c"/>
<line x1="183.1" y1="513.2088" x2="183.1" y2="506.83360000000005" stroke="#111" stroke-width="1.1"/>
<line x1="180.5" y1="506.83360000000005" x2="185.7" y2="506.83360000000005" stroke="#111" stroke-width="1.1"/>
<line x1="183.1" y1="539.2" x2="183.1" y2="542.4000000000001" stroke="#111" stroke-width="1"/>
<rect x="192.00" y="444.80" width="10.30" height="94.40" fill="#0c0c0c"/>
<line x1="197.15" y1="444.79800000000006" x2="197.15" y2="423.71080000000006" stroke="#111" stroke-width="1.1"/>
<line x1="194.55" y1="423.71080000000006" x2="199.75" y2="423.71080000000006" stroke="#111" stroke-width="1.1"/>
<line x1="197.15" y1="539.2" x2="197.15" y2="542.4000000000001" stroke="#111" stroke-width="1"/>
<rect x="206.20" y="457.30" width="10.30" height="81.90" fill="#0c0c0c"/>
<line x1="211.35" y1="457.30320000000006" x2="211.35" y2="447.25000000000006" stroke="#111" stroke-width="1.1"/>
<line x1="208.75" y1="447.25000000000006" x2="213.95" y2="447.25000000000006" stroke="#111" stroke-width="1.1"/>
<line x1="211.35" y1="539.2" x2="211.35" y2="542.4000000000001" stroke="#111" stroke-width="1"/>
<rect x="220.40" y="520.32" width="10.20" height="18.88" fill="#0c0c0c"/>
<line x1="225.5" y1="520.3196" x2="225.5" y2="519.3388" stroke="#111" stroke-width="1.1"/>
<line x1="222.9" y1="519.3388" x2="228.1" y2="519.3388" stroke="#111" stroke-width="1.1"/>
<line x1="225.5" y1="539.2" x2="225.5" y2="542.4000000000001" stroke="#111" stroke-width="1"/>
<line x1="73.4" y1="391.58000000000004" x2="73.4" y2="539.7" stroke="#111" stroke-width="1.2"/>
<line x1="72.9" y1="539.2" x2="237.0" y2="539.2" stroke="#111" stroke-width="1.3"/>
<line x1="69.0" y1="539.2" x2="73.4" y2="539.2" stroke="#111" stroke-width="1"/>
<text x="59.0" y="542.7" font-size="10.2" text-anchor="end" font-weight="normal" fill="#111">0</text>
<line x1="70.80000000000001" y1="514.6800000000001" x2="73.4" y2="514.6800000000001" stroke="#111" stroke-width="1"/>
<line x1="69.0" y1="490.16" x2="73.4" y2="490.16" stroke="#111" stroke-width="1"/>
<text x="59.0" y="493.66" font-size="10.2" text-anchor="end" font-weight="normal" fill="#111">20</text>
<line x1="70.80000000000001" y1="465.64000000000004" x2="73.4" y2="465.64000000000004" stroke="#111" stroke-width="1"/>
<line x1="69.0" y1="441.12000000000006" x2="73.4" y2="441.12000000000006" stroke="#111" stroke-width="1"/>
<text x="59.0" y="444.62000000000006" font-size="10.2" text-anchor="end" font-weight="normal" fill="#111">40</text>
<line x1="70.80000000000001" y1="416.6" x2="73.4" y2="416.6" stroke="#111" stroke-width="1"/>
<line x1="69.0" y1="392.08000000000004" x2="73.4" y2="392.08000000000004" stroke="#111" stroke-width="1"/>
<text x="59.0" y="395.58000000000004" font-size="10.2" text-anchor="end" font-weight="normal" fill="#111">60</text>
<text x="40.3" y="471.5" font-size="9.65" text-anchor="middle" font-weight="normal" fill="#222" transform="rotate(-90 40.3 471.5)">% annexin-V positive cells</text>
<text x="90.6" y="556.8" font-size="9.2" text-anchor="end" font-weight="normal" fill="#111" transform="rotate(-45 90.6 556.8)">control</text>
<text x="102.0" y="559.2" font-size="9.2" text-anchor="end" font-weight="normal" fill="#111" transform="rotate(-45 102.0 559.2)">rituximab</text>
<text x="119.3" y="558.1" font-size="9.2" text-anchor="end" font-weight="normal" fill="#111" transform="rotate(-45 119.3 558.1)">BHH2</text>
<text x="125.89999999999999" y="562.5" font-size="9.2" text-anchor="end" font-weight="normal" fill="#111" transform="rotate(-45 125.89999999999999 562.5)">tositumomab</text>
<text x="143.7" y="559.1" font-size="9.2" text-anchor="end" font-weight="normal" fill="#111" transform="rotate(-45 143.7 559.1)">herceptin</text>
<text x="170.5" y="556.8" font-size="9.2" text-anchor="end" font-weight="normal" fill="#111" transform="rotate(-45 170.5 556.8)">control</text>
<text x="181.7" y="559.2" font-size="9.2" text-anchor="end" font-weight="normal" fill="#111" transform="rotate(-45 181.7 559.2)">rituximab</text>
<text x="198.75" y="557.9" font-size="9.2" text-anchor="end" font-weight="normal" fill="#111" transform="rotate(-45 198.75 557.9)">BHH2</text>
<text x="204.95" y="563.1" font-size="9.2" text-anchor="end" font-weight="normal" fill="#111" transform="rotate(-45 204.95 563.1)">tositumomab</text>
<text x="223.6" y="558.9" font-size="9.2" text-anchor="end" font-weight="normal" fill="#111" transform="rotate(-45 223.6 558.9)">herceptin</text>
<line x1="75.1" y1="601.6" x2="142.3" y2="601.6" stroke="#222" stroke-width="1.1"/>
<text x="62.3" y="615.2" font-size="10.7" text-anchor="start" font-weight="normal" fill="#111">raji clone C2</text>
<line x1="156.5" y1="601.6" x2="222.1" y2="601.6" stroke="#222" stroke-width="1.1"/>
<text x="145.2" y="615.2" font-size="10.7" text-anchor="start" font-weight="normal" fill="#111">raji clone C8</text>
<rect x="326.20" y="500.28" width="10.20" height="36.82" fill="#0c0c0c"/>
<line x1="331.29999999999995" y1="537.1" x2="331.29999999999995" y2="540.3000000000001" stroke="#111" stroke-width="1"/>
<rect x="341.00" y="474.20" width="10.20" height="62.90" fill="#0c0c0c"/>
<line x1="346.1" y1="474.2029" x2="346.1" y2="457.9999" stroke="#111" stroke-width="1.1"/>
<line x1="343.5" y1="457.9999" x2="348.70000000000005" y2="457.9999" stroke="#111" stroke-width="1.1"/>
<line x1="346.1" y1="537.1" x2="346.1" y2="540.3000000000001" stroke="#111" stroke-width="1"/>
<rect x="355.70" y="441.65" width="10.20" height="95.45" fill="#0c0c0c"/>
<line x1="360.79999999999995" y1="441.6496" x2="360.79999999999995" y2="410.7166" stroke="#111" stroke-width="1.1"/>
<line x1="358.19999999999993" y1="410.7166" x2="363.4" y2="410.7166" stroke="#111" stroke-width="1.1"/>
<line x1="360.79999999999995" y1="537.1" x2="360.79999999999995" y2="540.3000000000001" stroke="#111" stroke-width="1"/>
<rect x="370.30" y="452.92" width="10.40" height="84.18" fill="#0c0c0c"/>
<line x1="375.5" y1="452.91805" x2="375.5" y2="414.9883" stroke="#111" stroke-width="1.1"/>
<line x1="372.9" y1="414.9883" x2="378.1" y2="414.9883" stroke="#111" stroke-width="1.1"/>
<line x1="375.5" y1="537.1" x2="375.5" y2="540.3000000000001" stroke="#111" stroke-width="1"/>
<rect x="385.30" y="493.94" width="10.20" height="43.16" fill="#0c0c0c"/>
<line x1="390.4" y1="493.9411" x2="390.4" y2="483.26185000000004" stroke="#111" stroke-width="1.1"/>
<line x1="387.79999999999995" y1="483.26185000000004" x2="393.0" y2="483.26185000000004" stroke="#111" stroke-width="1.1"/>
<line x1="390.4" y1="537.1" x2="390.4" y2="540.3000000000001" stroke="#111" stroke-width="1"/>
<rect x="410.00" y="500.28" width="10.20" height="36.82" fill="#0c0c0c"/>
<line x1="415.1" y1="537.1" x2="415.1" y2="540.3000000000001" stroke="#111" stroke-width="1"/>
<rect x="424.60" y="485.55" width="10.20" height="51.56" fill="#0c0c0c"/>
<line x1="429.70000000000005" y1="485.545" x2="429.70000000000005" y2="477.44350000000003" stroke="#111" stroke-width="1.1"/>
<line x1="427.1" y1="477.44350000000003" x2="432.30000000000007" y2="477.44350000000003" stroke="#111" stroke-width="1.1"/>
<line x1="429.70000000000005" y1="537.1" x2="429.70000000000005" y2="540.3000000000001" stroke="#111" stroke-width="1"/>
<rect x="439.20" y="464.19" width="10.20" height="72.91" fill="#0c0c0c"/>
<line x1="444.29999999999995" y1="464.1865" x2="444.29999999999995" y2="457.85260000000005" stroke="#111" stroke-width="1.1"/>
<line x1="441.69999999999993" y1="457.85260000000005" x2="446.9" y2="457.85260000000005" stroke="#111" stroke-width="1.1"/>
<line x1="444.29999999999995" y1="537.1" x2="444.29999999999995" y2="540.3000000000001" stroke="#111" stroke-width="1"/>
<rect x="453.80" y="465.07" width="10.40" height="72.03" fill="#0c0c0c"/>
<line x1="459.0" y1="465.0703" x2="459.0" y2="451.5187" stroke="#111" stroke-width="1.1"/>
<line x1="456.4" y1="451.5187" x2="461.6" y2="451.5187" stroke="#111" stroke-width="1.1"/>
<line x1="459.0" y1="537.1" x2="459.0" y2="540.3000000000001" stroke="#111" stroke-width="1"/>
<rect x="468.50" y="492.17" width="10.30" height="44.93" fill="#0c0c0c"/>
<line x1="473.65" y1="492.1735" x2="473.65" y2="491.437" stroke="#111" stroke-width="1.1"/>
<line x1="471.04999999999995" y1="491.437" x2="476.25" y2="491.437" stroke="#111" stroke-width="1.1"/>
<line x1="473.65" y1="537.1" x2="473.65" y2="540.3000000000001" stroke="#111" stroke-width="1"/>
<line x1="313.3" y1="389.3" x2="313.3" y2="537.6" stroke="#111" stroke-width="1.2"/>
<line x1="312.8" y1="537.1" x2="486.5" y2="537.1" stroke="#111" stroke-width="1.3"/>
<line x1="308.90000000000003" y1="537.1" x2="313.3" y2="537.1" stroke="#111" stroke-width="1"/>
<text x="295.4" y="540.6" font-size="9.6" text-anchor="end" font-weight="normal" fill="#111">50</text>
<line x1="310.7" y1="518.6875" x2="313.3" y2="518.6875" stroke="#111" stroke-width="1"/>
<line x1="308.90000000000003" y1="500.27500000000003" x2="313.3" y2="500.27500000000003" stroke="#111" stroke-width="1"/>
<text x="294.0" y="503.77500000000003" font-size="9.6" text-anchor="end" font-weight="normal" fill="#111">100</text>
<line x1="310.7" y1="481.8625" x2="313.3" y2="481.8625" stroke="#111" stroke-width="1"/>
<line x1="308.90000000000003" y1="463.45000000000005" x2="313.3" y2="463.45000000000005" stroke="#111" stroke-width="1"/>
<text x="294.0" y="466.95000000000005" font-size="9.6" text-anchor="end" font-weight="normal" fill="#111">150</text>
<line x1="310.7" y1="445.0375" x2="313.3" y2="445.0375" stroke="#111" stroke-width="1"/>
<line x1="308.90000000000003" y1="426.625" x2="313.3" y2="426.625" stroke="#111" stroke-width="1"/>
<text x="294.0" y="430.125" font-size="9.6" text-anchor="end" font-weight="normal" fill="#111">200</text>
<line x1="310.7" y1="408.2125" x2="313.3" y2="408.2125" stroke="#111" stroke-width="1"/>
<line x1="308.90000000000003" y1="389.8" x2="313.3" y2="389.8" stroke="#111" stroke-width="1"/>
<text x="294.0" y="393.3" font-size="9.6" text-anchor="end" font-weight="normal" fill="#111">250</text>
<text x="270.2" y="468.3" font-size="9.65" text-anchor="middle" font-weight="normal" fill="#222" transform="rotate(-90 270.2 468.3)">ROS, % of&#160; control</text>
<text x="329.69999999999993" y="557.1" font-size="9.2" text-anchor="end" font-weight="normal" fill="#111" transform="rotate(-45 329.69999999999993 557.1)">control</text>
<text x="340.8" y="562.2" font-size="9.2" text-anchor="end" font-weight="normal" fill="#111" transform="rotate(-45 340.8 562.2)">rituximab</text>
<text x="358.9" y="557.4" font-size="9.2" text-anchor="end" font-weight="normal" fill="#111" transform="rotate(-45 358.9 557.4)">BHH2</text>
<text x="365.1" y="564.8" font-size="9.2" text-anchor="end" font-weight="normal" fill="#111" transform="rotate(-45 365.1 564.8)">tositumomab</text>
<text x="385.79999999999995" y="560.9" font-size="9.2" text-anchor="end" font-weight="normal" fill="#111" transform="rotate(-45 385.79999999999995 560.9)">herceptin</text>
<text x="412.8" y="557.1" font-size="9.2" text-anchor="end" font-weight="normal" fill="#111" transform="rotate(-45 412.8 557.1)">control</text>
<text x="423.80000000000007" y="561.7" font-size="9.2" text-anchor="end" font-weight="normal" fill="#111" transform="rotate(-45 423.80000000000007 561.7)">rituximab</text>
<text x="442.99999999999994" y="557.4" font-size="9.2" text-anchor="end" font-weight="normal" fill="#111" transform="rotate(-45 442.99999999999994 557.4)">BHH2</text>
<text x="447.8" y="564.8" font-size="9.2" text-anchor="end" font-weight="normal" fill="#111" transform="rotate(-45 447.8 564.8)">tositumomab</text>
<text x="467.95" y="561.0" font-size="9.2" text-anchor="end" font-weight="normal" fill="#111" transform="rotate(-45 467.95 561.0)">herceptin</text>
<line x1="311.8" y1="603.3" x2="380.5" y2="603.3" stroke="#222" stroke-width="1.1"/>
<text x="297.4" y="619.4" font-size="10.7" text-anchor="start" font-weight="normal" fill="#111">raji clone C2</text>
<line x1="395.1" y1="603.3" x2="464.4" y2="603.3" stroke="#222" stroke-width="1.1"/>
<text x="379.4" y="619.4" font-size="10.7" text-anchor="start" font-weight="normal" fill="#111">raji clone C8</text>
<text x="63.0" y="668.4" font-size="21" text-anchor="start" font-weight="bold" fill="#000">E</text>
<text x="129.6" y="670.8" font-size="12.7" text-anchor="middle" font-weight="normal" fill="#111">Cont</text>
<text x="209.7" y="669.3" font-size="12.6" text-anchor="middle" font-weight="normal" fill="#111">GA101 (NG)</text>
<text x="284.8" y="669.3" font-size="12.7" text-anchor="middle" font-weight="normal" fill="#111">Tos</text>
<text x="360.3" y="670.9" font-size="12.6" text-anchor="middle" font-weight="normal" fill="#111">Ritx</text>
<g clip-path="url(#c1)">
<rect x="99.3" y="676.2" width="68.2" height="61.2" fill="url(#contbg)"/>
<rect x="99.3" y="676.2" width="68.2" height="61.2" filter="url(#fineNoise)" opacity="0.30"/>
<g filter="url(#soft)">
<circle cx="102.7" cy="681.9" r="1.25" fill="#444" stroke="#c4c4c4" stroke-width="0.35"/>
<circle cx="109.7" cy="679.7" r="1.25" fill="#444" stroke="#c4c4c4" stroke-width="0.35"/>
<circle cx="102.5" cy="680.8" r="1.25" fill="#444" stroke="#c4c4c4" stroke-width="0.35"/>
<circle cx="108.0" cy="683.8" r="1.25" fill="#444" stroke="#c4c4c4" stroke-width="0.35"/>
<circle cx="103.3" cy="678.3" r="1.25" fill="#444" stroke="#c4c4c4" stroke-width="0.35"/>
<circle cx="108.9" cy="682.3" r="1.25" fill="#444" stroke="#c4c4c4" stroke-width="0.35"/>
<circle cx="110.5" cy="683.0" r="1.25" fill="#444" stroke="#c4c4c4" stroke-width="0.35"/>
<circle cx="106.1" cy="680.2" r="1.25" fill="#444" stroke="#c4c4c4" stroke-width="0.35"/>
<circle cx="111.6" cy="680.5" r="1.25" fill="#444" stroke="#c4c4c4" stroke-width="0.35"/>
<circle cx="104.2" cy="678.3" r="1.25" fill="#444" stroke="#c4c4c4" stroke-width="0.35"/>
<circle cx="106.9" cy="681.4" r="1.25" fill="#444" stroke="#c4c4c4" stroke-width="0.35"/>
<circle cx="105.2" cy="680.8" r="1.25" fill="#444" stroke="#c4c4c4" stroke-width="0.35"/>
<circle cx="107.4" cy="682.9" r="1.25" fill="#444" stroke="#c4c4c4" stroke-width="0.35"/>
<circle cx="110.0" cy="681.5" r="1.25" fill="#444" stroke="#c4c4c4" stroke-width="0.35"/>
<circle cx="102.0" cy="682.4" r="1.25" fill="#444" stroke="#c4c4c4" stroke-width="0.35"/>
<circle cx="102.3" cy="680.6" r="1.25" fill="#444" stroke="#c4c4c4" stroke-width="0.35"/>
<circle cx="102.2" cy="681.0" r="1.25" fill="#444" stroke="#c4c4c4" stroke-width="0.35"/>
<circle cx="103.8" cy="681.6" r="1.25" fill="#444" stroke="#c4c4c4" stroke-width="0.35"/>
<circle cx="149.0" cy="685.5" r="1.25" fill="#444" stroke="#c4c4c4" stroke-width="0.35"/>
<circle cx="146.8" cy="683.2" r="1.25" fill="#444" stroke="#c4c4c4" stroke-width="0.35"/>
<circle cx="144.2" cy="686.9" r="1.25" fill="#444" stroke="#c4c4c4" stroke-width="0.35"/>
<circle cx="144.7" cy="686.3" r="1.25" fill="#444" stroke="#c4c4c4" stroke-width="0.35"/>
<circle cx="145.3" cy="683.5" r="1.25" fill="#444" stroke="#c4c4c4" stroke-width="0.35"/>
<circle cx="146.4" cy="683.9" r="1.25" fill="#444" stroke="#c4c4c4" stroke-width="0.35"/>
<circle cx="148.6" cy="684.7" r="1.25" fill="#444" stroke="#c4c4c4" stroke-width="0.35"/>
<circle cx="146.8" cy="685.5" r="1.25" fill="#444" stroke="#c4c4c4" stroke-width="0.35"/>
<circle cx="147.3" cy="684.3" r="1.25" fill="#444" stroke="#c4c4c4" stroke-width="0.35"/>
<circle cx="147.5" cy="685.3" r="1.25" fill="#444" stroke="#c4c4c4" stroke-width="0.35"/>
<circle cx="147.8" cy="686.6" r="1.25" fill="#444" stroke="#c4c4c4" stroke-width="0.35"/>
<circle cx="131.0" cy="705.7" r="1.25" fill="#444" stroke="#c4c4c4" stroke-width="0.35"/>
<circle cx="133.8" cy="710.2" r="1.25" fill="#444" stroke="#c4c4c4" stroke-width="0.35"/>
<circle cx="136.2" cy="707.4" r="1.25" fill="#444" stroke="#c4c4c4" stroke-width="0.35"/>
<circle cx="132.9" cy="710.3" r="1.25" fill="#444" stroke="#c4c4c4" stroke-width="0.35"/>
<circle cx="131.8" cy="709.3" r="1.25" fill="#444" stroke="#c4c4c4" stroke-width="0.35"/>
<circle cx="131.2" cy="706.3" r="1.25" fill="#444" stroke="#c4c4c4" stroke-width="0.35"/>
<circle cx="126.1" cy="707.2" r="1.25" fill="#444" stroke="#c4c4c4" stroke-width="0.35"/>
<circle cx="132.5" cy="712.9" r="1.25" fill="#444" stroke="#c4c4c4" stroke-width="0.35"/>
<circle cx="134.2" cy="711.7" r="1.25" fill="#444" stroke="#c4c4c4" stroke-width="0.35"/>
<circle cx="133.7" cy="710.9" r="1.25" fill="#444" stroke="#c4c4c4" stroke-width="0.35"/>
<circle cx="131.2" cy="711.3" r="1.25" fill="#444" stroke="#c4c4c4" stroke-width="0.35"/>
<circle cx="136.5" cy="707.6" r="1.25" fill="#444" stroke="#c4c4c4" stroke-width="0.35"/>
<circle cx="128.2" cy="713.4" r="1.25" fill="#444" stroke="#c4c4c4" stroke-width="0.35"/>
<circle cx="131.5" cy="711.8" r="1.25" fill="#444" stroke="#c4c4c4" stroke-width="0.35"/>
<circle cx="133.8" cy="705.0" r="1.25" fill="#444" stroke="#c4c4c4" stroke-width="0.35"/>
<circle cx="135.9" cy="711.7" r="1.25" fill="#444" stroke="#c4c4c4" stroke-width="0.35"/>
<circle cx="131.2" cy="711.2" r="1.25" fill="#444" stroke="#c4c4c4" stroke-width="0.35"/>
<circle cx="131.0" cy="705.4" r="1.25" fill="#444" stroke="#c4c4c4" stroke-width="0.35"/>
<circle cx="129.9" cy="709.9" r="1.25" fill="#444" stroke="#c4c4c4" stroke-width="0.35"/>
<circle cx="134.8" cy="710.8" r="1.25" fill="#444" stroke="#c4c4c4" stroke-width="0.35"/>
<circle cx="130.6" cy="712.8" r="1.25" fill="#444" stroke="#c4c4c4" stroke-width="0.35"/>
<circle cx="127.2" cy="711.2" r="1.25" fill="#444" stroke="#c4c4c4" stroke-width="0.35"/>
<circle cx="135.0" cy="707.5" r="1.25" fill="#444" stroke="#c4c4c4" stroke-width="0.35"/>
<circle cx="124.7" cy="706.2" r="1.25" fill="#444" stroke="#c4c4c4" stroke-width="0.35"/>
<circle cx="131.5" cy="710.5" r="1.25" fill="#444" stroke="#c4c4c4" stroke-width="0.35"/>
<circle cx="135.6" cy="705.8" r="1.25" fill="#444" stroke="#c4c4c4" stroke-width="0.35"/>
<circle cx="130.4" cy="710.9" r="1.25" fill="#444" stroke="#c4c4c4" stroke-width="0.35"/>
<circle cx="130.0" cy="703.2" r="1.25" fill="#444" stroke="#c4c4c4" stroke-width="0.35"/>
<circle cx="132.6" cy="713.6" r="1.25" fill="#444" stroke="#c4c4c4" stroke-width="0.35"/>
<circle cx="134.3" cy="705.6" r="1.25" fill="#444" stroke="#c4c4c4" stroke-width="0.35"/>
<circle cx="131.8" cy="730.6" r="1.25" fill="#444" stroke="#c4c4c4" stroke-width="0.35"/>
<circle cx="143.4" cy="731.3" r="1.25" fill="#444" stroke="#c4c4c4" stroke-width="0.35"/>
<circle cx="135.1" cy="735.8" r="1.25" fill="#444" stroke="#c4c4c4" stroke-width="0.35"/>
<circle cx="134.1" cy="736.3" r="1.25" fill="#444" stroke="#c4c4c4" stroke-width="0.35"/>
<circle cx="130.3" cy="727.2" r="1.25" fill="#444" stroke="#c4c4c4" stroke-width="0.35"/>
<circle cx="138.1" cy="735.2" r="1.25" fill="#444" stroke="#c4c4c4" stroke-width="0.35"/>
<circle cx="138.6" cy="731.0" r="1.25" fill="#444" stroke="#c4c4c4" stroke-width="0.35"/>
<circle cx="126.4" cy="727.0" r="1.25" fill="#444" stroke="#c4c4c4" stroke-width="0.35"/>
<circle cx="130.8" cy="726.9" r="1.25" fill="#444" stroke="#c4c4c4" stroke-width="0.35"/>
<circle cx="138.2" cy="727.8" r="1.25" fill="#444" stroke="#c4c4c4" stroke-width="0.35"/>
<circle cx="139.3" cy="729.9" r="1.25" fill="#444" stroke="#c4c4c4" stroke-width="0.35"/>
<circle cx="132.3" cy="730.1" r="1.25" fill="#444" stroke="#c4c4c4" stroke-width="0.35"/>
<circle cx="137.0" cy="733.6" r="1.25" fill="#444" stroke="#c4c4c4" stroke-width="0.35"/>
<circle cx="131.4" cy="728.3" r="1.25" fill="#444" stroke="#c4c4c4" stroke-width="0.35"/>
<circle cx="128.8" cy="734.9" r="1.25" fill="#444" stroke="#c4c4c4" stroke-width="0.35"/>
<circle cx="142.0" cy="728.8" r="1.25" fill="#444" stroke="#c4c4c4" stroke-width="0.35"/>
<circle cx="131.9" cy="724.2" r="1.25" fill="#444" stroke="#c4c4c4" stroke-width="0.35"/>
<circle cx="135.6" cy="730.6" r="1.25" fill="#444" stroke="#c4c4c4" stroke-width="0.35"/>
<circle cx="143.4" cy="730.3" r="1.25" fill="#444" stroke="#c4c4c4" stroke-width="0.35"/>
<circle cx="131.7" cy="722.5" r="1.25" fill="#444" stroke="#c4c4c4" stroke-width="0.35"/>
<circle cx="141.9" cy="730.3" r="1.25" fill="#444" stroke="#c4c4c4" stroke-width="0.35"/>
<circle cx="126.5" cy="730.2" r="1.25" fill="#444" stroke="#c4c4c4" stroke-width="0.35"/>
<circle cx="130.6" cy="736.3" r="1.25" fill="#444" stroke="#c4c4c4" stroke-width="0.35"/>
<circle cx="140.7" cy="732.0" r="1.25" fill="#444" stroke="#c4c4c4" stroke-width="0.35"/>
<circle cx="133.8" cy="722.4" r="1.25" fill="#444" stroke="#c4c4c4" stroke-width="0.35"/>
<circle cx="133.9" cy="723.2" r="1.25" fill="#444" stroke="#c4c4c4" stroke-width="0.35"/>
<circle cx="136.9" cy="722.6" r="1.25" fill="#444" stroke="#c4c4c4" stroke-width="0.35"/>
<circle cx="129.9" cy="734.5" r="1.25" fill="#444" stroke="#c4c4c4" stroke-width="0.35"/>
<circle cx="141.6" cy="725.4" r="1.25" fill="#444" stroke="#c4c4c4" stroke-width="0.35"/>
<circle cx="127.3" cy="732.8" r="1.25" fill="#444" stroke="#c4c4c4" stroke-width="0.35"/>
<circle cx="139.1" cy="725.2" r="1.25" fill="#444" stroke="#c4c4c4" stroke-width="0.35"/>
<circle cx="130.4" cy="726.2" r="1.25" fill="#444" stroke="#c4c4c4" stroke-width="0.35"/>
<circle cx="128.1" cy="726.6" r="1.25" fill="#444" stroke="#c4c4c4" stroke-width="0.35"/>
<circle cx="141.1" cy="732.4" r="1.25" fill="#444" stroke="#c4c4c4" stroke-width="0.35"/>
<circle cx="143.3" cy="729.2" r="1.25" fill="#444" stroke="#c4c4c4" stroke-width="0.35"/>
<circle cx="133.7" cy="724.9" r="1.25" fill="#444" stroke="#c4c4c4" stroke-width="0.35"/>
<circle cx="133.8" cy="723.8" r="1.25" fill="#444" stroke="#c4c4c4" stroke-width="0.35"/>
<circle cx="126.5" cy="732.0" r="1.25" fill="#444" stroke="#c4c4c4" stroke-width="0.35"/>
<circle cx="141.5" cy="732.8" r="1.25" fill="#444" stroke="#c4c4c4" stroke-width="0.35"/>
<circle cx="141.6" cy="730.6" r="1.25" fill="#444" stroke="#c4c4c4" stroke-width="0.35"/>
<circle cx="130.0" cy="729.9" r="1.25" fill="#444" stroke="#c4c4c4" stroke-width="0.35"/>
<circle cx="132.4" cy="724.5" r="1.25" fill="#444" stroke="#c4c4c4" stroke-width="0.35"/>
<circle cx="127.7" cy="724.8" r="1.25" fill="#444" stroke="#c4c4c4" stroke-width="0.35"/>
<circle cx="134.5" cy="730.3" r="1.25" fill="#444" stroke="#c4c4c4" stroke-width="0.35"/>
<circle cx="132.1" cy="735.4" r="1.25" fill="#444" stroke="#c4c4c4" stroke-width="0.35"/>
<circle cx="135.6" cy="732.5" r="1.25" fill="#444" stroke="#c4c4c4" stroke-width="0.35"/>
<circle cx="140.8" cy="726.1" r="1.25" fill="#444" stroke="#c4c4c4" stroke-width="0.35"/>
<circle cx="126.2" cy="732.0" r="1.25" fill="#444" stroke="#c4c4c4" stroke-width="0.35"/>
<circle cx="130.9" cy="734.9" r="1.25" fill="#444" stroke="#c4c4c4" stroke-width="0.35"/>
<circle cx="136.5" cy="734.2" r="1.25" fill="#444" stroke="#c4c4c4" stroke-width="0.35"/>
<circle cx="137.6" cy="722.8" r="1.25" fill="#444" stroke="#c4c4c4" stroke-width="0.35"/>
<circle cx="138.7" cy="726.3" r="1.25" fill="#444" stroke="#c4c4c4" stroke-width="0.35"/>
<circle cx="129.9" cy="727.4" r="1.25" fill="#444" stroke="#c4c4c4" stroke-width="0.35"/>
<circle cx="138.8" cy="733.5" r="1.25" fill="#444" stroke="#c4c4c4" stroke-width="0.35"/>
<circle cx="139.0" cy="723.6" r="1.25" fill="#444" stroke="#c4c4c4" stroke-width="0.35"/>
<circle cx="132.3" cy="722.4" r="1.25" fill="#444" stroke="#c4c4c4" stroke-width="0.35"/>
<circle cx="133.9" cy="732.5" r="1.25" fill="#444" stroke="#c4c4c4" stroke-width="0.35"/>
<circle cx="129.8" cy="730.7" r="1.25" fill="#444" stroke="#c4c4c4" stroke-width="0.35"/>
<circle cx="135.9" cy="734.2" r="1.25" fill="#444" stroke="#c4c4c4" stroke-width="0.35"/>
<circle cx="129.9" cy="725.8" r="1.25" fill="#444" stroke="#c4c4c4" stroke-width="0.35"/>
<circle cx="131.1" cy="735.8" r="1.25" fill="#444" stroke="#c4c4c4" stroke-width="0.35"/>
<circle cx="140.8" cy="728.9" r="1.25" fill="#444" stroke="#c4c4c4" stroke-width="0.35"/>
<circle cx="136.0" cy="730.1" r="1.25" fill="#444" stroke="#c4c4c4" stroke-width="0.35"/>
<circle cx="135.8" cy="728.4" r="1.25" fill="#444" stroke="#c4c4c4" stroke-width="0.35"/>
<circle cx="132.7" cy="724.0" r="1.25" fill="#444" stroke="#c4c4c4" stroke-width="0.35"/>
<circle cx="131.5" cy="735.7" r="1.25" fill="#444" stroke="#c4c4c4" stroke-width="0.35"/>
<circle cx="137.9" cy="729.8" r="1.25" fill="#444" stroke="#c4c4c4" stroke-width="0.35"/>
<circle cx="133.1" cy="729.8" r="1.25" fill="#444" stroke="#c4c4c4" stroke-width="0.35"/>
<circle cx="136.7" cy="726.3" r="1.25" fill="#444" stroke="#c4c4c4" stroke-width="0.35"/>
<circle cx="135.8" cy="730.8" r="1.25" fill="#444" stroke="#c4c4c4" stroke-width="0.35"/>
<circle cx="130.2" cy="725.9" r="1.25" fill="#444" stroke="#c4c4c4" stroke-width="0.35"/>
<circle cx="129.3" cy="725.1" r="1.25" fill="#444" stroke="#c4c4c4" stroke-width="0.35"/>
<circle cx="137.7" cy="722.6" r="1.25" fill="#444" stroke="#c4c4c4" stroke-width="0.35"/>
<circle cx="132.8" cy="726.4" r="1.25" fill="#444" stroke="#c4c4c4" stroke-width="0.35"/>
<circle cx="130.6" cy="730.0" r="1.25" fill="#444" stroke="#c4c4c4" stroke-width="0.35"/>
<circle cx="140.9" cy="729.8" r="1.25" fill="#444" stroke="#c4c4c4" stroke-width="0.35"/>
<circle cx="133.6" cy="726.4" r="1.25" fill="#444" stroke="#c4c4c4" stroke-width="0.35"/>
<circle cx="133.7" cy="733.9" r="1.25" fill="#444" stroke="#c4c4c4" stroke-width="0.35"/>
<circle cx="132.3" cy="724.4" r="1.25" fill="#444" stroke="#c4c4c4" stroke-width="0.35"/>
<circle cx="128.4" cy="725.2" r="1.25" fill="#444" stroke="#c4c4c4" stroke-width="0.35"/>
<circle cx="150.4" cy="729.4" r="1.25" fill="#444" stroke="#c4c4c4" stroke-width="0.35"/>
<circle cx="154.6" cy="726.9" r="1.25" fill="#444" stroke="#c4c4c4" stroke-width="0.35"/>
<circle cx="156.9" cy="726.3" r="1.25" fill="#444" stroke="#c4c4c4" stroke-width="0.35"/>
<circle cx="155.5" cy="729.2" r="1.25" fill="#444" stroke="#c4c4c4" stroke-width="0.35"/>
<circle cx="150.6" cy="725.1" r="1.25" fill="#444" stroke="#c4c4c4" stroke-width="0.35"/>
<circle cx="151.1" cy="729.3" r="1.25" fill="#444" stroke="#c4c4c4" stroke-width="0.35"/>
<circle cx="156.3" cy="725.4" r="1.25" fill="#444" stroke="#c4c4c4" stroke-width="0.35"/>
<circle cx="156.3" cy="726.7" r="1.25" fill="#444" stroke="#c4c4c4" stroke-width="0.35"/>
<circle cx="164.2" cy="721.1" r="1.25" fill="#444" stroke="#c4c4c4" stroke-width="0.35"/>
<circle cx="164.5" cy="719.8" r="1.25" fill="#444" stroke="#c4c4c4" stroke-width="0.35"/>
<circle cx="163.3" cy="720.4" r="1.25" fill="#444" stroke="#c4c4c4" stroke-width="0.35"/>
<circle cx="165.7" cy="724.3" r="1.25" fill="#444" stroke="#c4c4c4" stroke-width="0.35"/>
<circle cx="168.1" cy="721.7" r="1.25" fill="#444" stroke="#c4c4c4" stroke-width="0.35"/>
<circle cx="119.7" cy="700.2" r="1.25" fill="#444" stroke="#c4c4c4" stroke-width="0.35"/>
<circle cx="122.0" cy="704.4" r="1.25" fill="#444" stroke="#c4c4c4" stroke-width="0.35"/>
<circle cx="125.8" cy="699.1" r="1.25" fill="#444" stroke="#c4c4c4" stroke-width="0.35"/>
<circle cx="126.9" cy="702.3" r="1.25" fill="#444" stroke="#c4c4c4" stroke-width="0.35"/>
<circle cx="119.8" cy="699.9" r="1.25" fill="#444" stroke="#c4c4c4" stroke-width="0.35"/>
<circle cx="123.2" cy="701.1" r="1.25" fill="#444" stroke="#c4c4c4" stroke-width="0.35"/>
<circle cx="101.7" cy="717.5" r="1.25" fill="#444" stroke="#c4c4c4" stroke-width="0.35"/>
<circle cx="101.8" cy="717.2" r="1.25" fill="#444" stroke="#c4c4c4" stroke-width="0.35"/>
<circle cx="100.4" cy="719.5" r="1.25" fill="#444" stroke="#c4c4c4" stroke-width="0.35"/>
<circle cx="110.5" cy="686.9" r="1.2" fill="#4a4a4a" stroke="#c4c4c4" stroke-width="0.35"/>
<circle cx="135.0" cy="720.3" r="1.2" fill="#4a4a4a" stroke="#c4c4c4" stroke-width="0.35"/>
<circle cx="156.1" cy="718.3" r="1.2" fill="#4a4a4a" stroke="#c4c4c4" stroke-width="0.35"/>
<circle cx="163.0" cy="706.9" r="1.2" fill="#4a4a4a" stroke="#c4c4c4" stroke-width="0.35"/>
<circle cx="163.2" cy="683.2" r="1.2" fill="#4a4a4a" stroke="#c4c4c4" stroke-width="0.35"/>
<circle cx="115.7" cy="708.9" r="1.2" fill="#4a4a4a" stroke="#c4c4c4" stroke-width="0.35"/>
<circle cx="120.2" cy="720.6" r="1.2" fill="#4a4a4a" stroke="#c4c4c4" stroke-width="0.35"/>
<circle cx="143.0" cy="708.6" r="1.2" fill="#4a4a4a" stroke="#c4c4c4" stroke-width="0.35"/>
<circle cx="156.3" cy="710.8" r="1.2" fill="#4a4a4a" stroke="#c4c4c4" stroke-width="0.35"/>
<circle cx="121.6" cy="700.4" r="1.2" fill="#4a4a4a" stroke="#c4c4c4" stroke-width="0.35"/>
<circle cx="156.4" cy="730.6" r="1.2" fill="#4a4a4a" stroke="#c4c4c4" stroke-width="0.35"/>
<circle cx="114.9" cy="727.7" r="1.2" fill="#4a4a4a" stroke="#c4c4c4" stroke-width="0.35"/>
<circle cx="164.4" cy="708.7" r="1.2" fill="#4a4a4a" stroke="#c4c4c4" stroke-width="0.35"/>
<circle cx="138.7" cy="689.9" r="1.2" fill="#4a4a4a" stroke="#c4c4c4" stroke-width="0.35"/>
<circle cx="136.2" cy="707.5" r="1.2" fill="#4a4a4a" stroke="#c4c4c4" stroke-width="0.35"/>
<circle cx="140.8" cy="679.8" r="1.2" fill="#4a4a4a" stroke="#c4c4c4" stroke-width="0.35"/>
<circle cx="164.5" cy="708.2" r="1.2" fill="#4a4a4a" stroke="#c4c4c4" stroke-width="0.35"/>
<circle cx="127.4" cy="724.8" r="1.2" fill="#4a4a4a" stroke="#c4c4c4" stroke-width="0.35"/>
<circle cx="138.0" cy="706.8" r="1.2" fill="#4a4a4a" stroke="#c4c4c4" stroke-width="0.35"/>
<circle cx="146.4" cy="682.0" r="1.2" fill="#4a4a4a" stroke="#c4c4c4" stroke-width="0.35"/>
<circle cx="136.4" cy="702.3" r="1.2" fill="#4a4a4a" stroke="#c4c4c4" stroke-width="0.35"/>
<circle cx="163.7" cy="731.9" r="1.2" fill="#4a4a4a" stroke="#c4c4c4" stroke-width="0.35"/>
<circle cx="118.9" cy="705.7" r="1.2" fill="#4a4a4a" stroke="#c4c4c4" stroke-width="0.35"/>
<circle cx="109.6" cy="703.4" r="1.2" fill="#4a4a4a" stroke="#c4c4c4" stroke-width="0.35"/>
<circle cx="154.5" cy="730.6" r="1.2" fill="#4a4a4a" stroke="#c4c4c4" stroke-width="0.35"/>
<circle cx="132.4" cy="696.7" r="1.2" fill="#4a4a4a" stroke="#c4c4c4" stroke-width="0.35"/>
<circle cx="113.8" cy="714.2" r="1.2" fill="#4a4a4a" stroke="#c4c4c4" stroke-width="0.35"/>
<circle cx="161.6" cy="685.7" r="1.2" fill="#4a4a4a" stroke="#c4c4c4" stroke-width="0.35"/>
<circle cx="152.1" cy="679.5" r="1.2" fill="#4a4a4a" stroke="#c4c4c4" stroke-width="0.35"/>
<circle cx="114.0" cy="691.4" r="1.2" fill="#4a4a4a" stroke="#c4c4c4" stroke-width="0.35"/>
<circle cx="146.1" cy="696.9" r="1.2" fill="#4a4a4a" stroke="#c4c4c4" stroke-width="0.35"/>
<circle cx="124.5" cy="714.3" r="1.2" fill="#4a4a4a" stroke="#c4c4c4" stroke-width="0.35"/>
<circle cx="108.1" cy="720.7" r="1.2" fill="#4a4a4a" stroke="#c4c4c4" stroke-width="0.35"/>
<circle cx="109.3" cy="707.9" r="1.2" fill="#4a4a4a" stroke="#c4c4c4" stroke-width="0.35"/>
<circle cx="117.6" cy="689.7" r="1.2" fill="#4a4a4a" stroke="#c4c4c4" stroke-width="0.35"/>
<circle cx="135.9" cy="703.6" r="1.2" fill="#4a4a4a" stroke="#c4c4c4" stroke-width="0.35"/>
<circle cx="125.8" cy="702.3" r="1.2" fill="#4a4a4a" stroke="#c4c4c4" stroke-width="0.35"/>
<circle cx="135.8" cy="687.5" r="1.2" fill="#4a4a4a" stroke="#c4c4c4" stroke-width="0.35"/>
<circle cx="114.6" cy="714.9" r="1.2" fill="#4a4a4a" stroke="#c4c4c4" stroke-width="0.35"/>
<circle cx="142.9" cy="709.0" r="1.2" fill="#4a4a4a" stroke="#c4c4c4" stroke-width="0.35"/>
<circle cx="156.8" cy="713.8" r="1.2" fill="#4a4a4a" stroke="#c4c4c4" stroke-width="0.35"/>
<circle cx="157.2" cy="691.7" r="1.2" fill="#4a4a4a" stroke="#c4c4c4" stroke-width="0.35"/>
<circle cx="149.6" cy="725.4" r="1.2" fill="#4a4a4a" stroke="#c4c4c4" stroke-width="0.35"/>
<circle cx="160.2" cy="696.6" r="1.2" fill="#4a4a4a" stroke="#c4c4c4" stroke-width="0.35"/>
<circle cx="121.8" cy="731.9" r="1.2" fill="#4a4a4a" stroke="#c4c4c4" stroke-width="0.35"/>
<circle cx="115.5" cy="736.3" r="1.2" fill="#4a4a4a" stroke="#c4c4c4" stroke-width="0.35"/>
<circle cx="159.2" cy="686.0" r="1.2" fill="#4a4a4a" stroke="#c4c4c4" stroke-width="0.35"/>
<circle cx="116.9" cy="720.5" r="1.2" fill="#4a4a4a" stroke="#c4c4c4" stroke-width="0.35"/>
<circle cx="118.2" cy="683.8" r="1.2" fill="#4a4a4a" stroke="#c4c4c4" stroke-width="0.35"/>
<circle cx="155.6" cy="702.7" r="1.2" fill="#4a4a4a" stroke="#c4c4c4" stroke-width="0.35"/>
<circle cx="152.8" cy="685.5" r="1.2" fill="#4a4a4a" stroke="#c4c4c4" stroke-width="0.35"/>
<circle cx="127.6" cy="718.1" r="1.2" fill="#4a4a4a" stroke="#c4c4c4" stroke-width="0.35"/>
<circle cx="102.5" cy="689.9" r="1.2" fill="#4a4a4a" stroke="#c4c4c4" stroke-width="0.35"/>
<circle cx="145.8" cy="731.2" r="1.2" fill="#4a4a4a" stroke="#c4c4c4" stroke-width="0.35"/>
<circle cx="164.4" cy="684.9" r="1.2" fill="#4a4a4a" stroke="#c4c4c4" stroke-width="0.35"/>
<circle cx="134.3" cy="722.3" r="1.2" fill="#4a4a4a" stroke="#c4c4c4" stroke-width="0.35"/>
<circle cx="134.1" cy="718.1" r="1.2" fill="#4a4a4a" stroke="#c4c4c4" stroke-width="0.35"/>
<circle cx="113.6" cy="682.3" r="1.2" fill="#4a4a4a" stroke="#c4c4c4" stroke-width="0.35"/>
<circle cx="108.2" cy="680.4" r="1.2" fill="#4a4a4a" stroke="#c4c4c4" stroke-width="0.35"/>
<circle cx="137.3" cy="708.2" r="1.2" fill="#4a4a4a" stroke="#c4c4c4" stroke-width="0.35"/>
<circle cx="138.4" cy="686.7" r="1.2" fill="#4a4a4a" stroke="#c4c4c4" stroke-width="0.35"/>
<circle cx="113.3" cy="690.1" r="1.2" fill="#4a4a4a" stroke="#c4c4c4" stroke-width="0.35"/>
</g></g>
<g clip-path="url(#c2)">
<rect x="175.1" y="675.8" width="68.4" height="60.7" fill="#8c8c8c"/>
<rect x="175.1" y="675.8" width="68.4" height="60.7" filter="url(#speckle)"/>
<g filter="url(#soft2)">
<polygon points="226.2,706.2 234.6,704.6 238.5,710.8 240.8,713.8 233.1,712.3 228.5,714.6 225.7,710.3" fill="#484848"/>
<polygon points="212.8,722.3 220.8,721.5 219.5,726.6 216.2,728.8 213.8,726.2" fill="#484848"/>
<ellipse cx="192.8" cy="681.5" rx="2.2" ry="3.8" fill="#484848"/>
<ellipse cx="210.3" cy="697.7" rx="3.2" ry="5.0" fill="#484848"/>
<ellipse cx="177.0" cy="696.0" rx="1.8" ry="4.5" fill="#484848"/>
<ellipse cx="177.6" cy="730.0" rx="1.8" ry="4.5" fill="#484848"/>
<ellipse cx="188.5" cy="727.0" rx="2.0" ry="1.5" fill="#484848"/>
<ellipse cx="237.7" cy="677.6" rx="2.0" ry="1.6" fill="#484848"/>
<ellipse cx="241.8" cy="696.0" rx="1.6" ry="2.2" fill="#484848"/>
<ellipse cx="204" cy="684.5" rx="1.3" ry="3.0" fill="#484848"/>
<ellipse cx="219" cy="684" rx="1.5" ry="2.0" fill="#484848"/>
</g></g>
<g clip-path="url(#c3)">
<rect x="252.5" y="675.8" width="68.2" height="60.7" fill="#9a9a9a"/>
<rect x="252.5" y="675.8" width="68.2" height="60.7" filter="url(#speckle2)"/>
<g filter="url(#soft2)">
<polygon points="292.9,675.5 320.9,675.5 320.9,684.6 312.2,683.2 306.8,685.4 301.4,684.2 297.5,679.5" fill="#4c4c4c"/>
<polygon points="275.7,691.5 278.6,694.6 276.8,705.4 275.2,714.3 281.7,716.2 289.4,720.5 283.5,722.6 274.0,722.6 269.4,728.8 266.9,736.8 252.2,736.8 252.2,721.1 259.8,718.0 268.5,714.6 271.8,704.2 274.0,693.8" fill="#4c4c4c"/>
<polygon points="286.3,693.1 292.2,689.7 297.5,693.1 296.8,697.4 299.1,700.8 294.9,700.2 292.2,696.5 287.5,696.2" fill="#4c4c4c"/>
<polygon points="273.7,677.4 279.1,678.5 282.2,682.3 279.1,683.5 276.0,681.1" fill="#4c4c4c"/>
<polygon points="252.2,699.2 255.5,700.8 254.9,708.5 252.2,709.2" fill="#4c4c4c"/>
<ellipse cx="312.4" cy="695.2" rx="3.4" ry="2.2" fill="#4c4c4c"/>
<ellipse cx="307.3" cy="712.4" rx="3.6" ry="3.6" fill="#4c4c4c"/>
<ellipse cx="291.0" cy="733.2" rx="2.0" ry="1.3" fill="#4c4c4c"/>
<ellipse cx="296" cy="722.6" rx="4.0" ry="1.0" fill="#4c4c4c"/>
<ellipse cx="313" cy="717.5" rx="3.5" ry="1.6" fill="#4c4c4c"/>
</g></g>
<g clip-path="url(#c4)">
<rect x="328.5" y="675.8" width="68.9" height="60.7" fill="#9c9c9c"/>
<rect x="328.5" y="675.8" width="68.9" height="60.7" filter="url(#speckle2)"/>
<g filter="url(#soft2)">
<polygon points="328.2,675.5 351.5,675.5 348.5,682.3 340.8,686.9 333.1,690.0 328.2,691.8" fill="#676767"/>
<polygon points="380.8,675.5 397.7,675.5 397.7,736.8 389.4,736.8 388.2,728.5 383.8,720.8 381.4,708.5 379.2,696.5 375.2,688.8 378.6,682.6" fill="#676767"/>
<polygon points="328.2,700.8 335.8,702.9 337.4,709.7 328.2,714.6" fill="#676767"/>
<ellipse cx="359.0" cy="709.4" rx="3.4" ry="1.7" fill="#676767"/>
<ellipse cx="368.5" cy="731.6" rx="3.2" ry="1.2" fill="#676767"/>
<ellipse cx="334.5" cy="724.0" rx="2.3" ry="1.9" fill="#676767"/>
<circle cx="386.5" cy="687.0" r="1.4" fill="none" stroke="#d8d8d8" stroke-width="0.8"/>
<circle cx="389.5" cy="708.5" r="1.4" fill="none" stroke="#d8d8d8" stroke-width="0.8"/>
<circle cx="340.5" cy="684" r="1.3" fill="none" stroke="#d8d8d8" stroke-width="0.8"/>
<circle cx="387.5" cy="690.5" r="1.2" fill="none" stroke="#d8d8d8" stroke-width="0.8"/>
<circle cx="394.5" cy="684.5" r="1.2" fill="none" stroke="#d8d8d8" stroke-width="0.8"/>
</g></g>
<g clip-path="url(#c4)"><polygon points="328.2,701.4 335.2,703.5 336.8,709.4 328.2,714.0" fill="#4e4e4e" filter="url(#soft2)"/></g>
<g clip-path="url(#blob4)"><rect x="328.5" y="675.8" width="68.9" height="60.7" fill="#9c9c9c"/><rect x="328.5" y="675.8" width="68.9" height="60.7" filter="url(#speckle2)"/></g>
</g>
</svg>
</body>
</html>
